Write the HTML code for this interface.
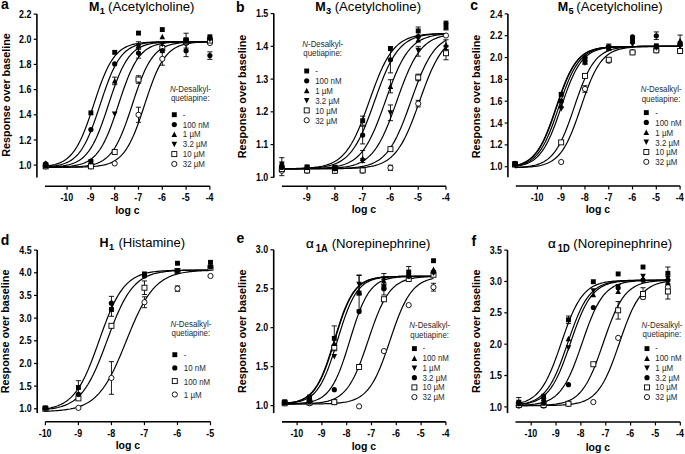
<!DOCTYPE html>
<html><head><meta charset="utf-8"><style>
html,body{margin:0;padding:0;background:#fff;}
svg{display:block;}
text{font-family:"Liberation Sans", sans-serif;}
</style></head><body>
<svg width="685" height="454" viewBox="0 0 685 454">
<rect width="685" height="454" fill="#fff"/>
<text x="4.95" y="9.2" font-size="14" font-weight="bold" text-anchor="middle">a</text>
<text x="89" y="10.9" font-size="12.5" font-weight="bold">M</text><text x="99.7" y="13.9" font-size="9.2" font-weight="bold">1</text><text x="108.1" y="10.9" font-size="12" textLength="86.4" lengthAdjust="spacingAndGlyphs">(Acetylcholine)</text>
<path d="M36.9 14.1V177.6" stroke="#000" stroke-width="1.6" fill="none"/>
<path d="M33.7 165.1H36.9" stroke="#000" stroke-width="1.2"/>
<text transform="translate(31.4 168.7) scale(0.87 1)" font-size="10.2" font-weight="bold" text-anchor="end">1.0</text>
<path d="M33.7 139.93H36.9" stroke="#000" stroke-width="1.2"/>
<text transform="translate(31.4 143.53) scale(0.87 1)" font-size="10.2" font-weight="bold" text-anchor="end">1.2</text>
<path d="M33.7 114.77H36.9" stroke="#000" stroke-width="1.2"/>
<text transform="translate(31.4 118.37) scale(0.87 1)" font-size="10.2" font-weight="bold" text-anchor="end">1.4</text>
<path d="M33.7 89.6H36.9" stroke="#000" stroke-width="1.2"/>
<text transform="translate(31.4 93.2) scale(0.87 1)" font-size="10.2" font-weight="bold" text-anchor="end">1.6</text>
<path d="M33.7 64.43H36.9" stroke="#000" stroke-width="1.2"/>
<text transform="translate(31.4 68.03) scale(0.87 1)" font-size="10.2" font-weight="bold" text-anchor="end">1.8</text>
<path d="M33.7 39.27H36.9" stroke="#000" stroke-width="1.2"/>
<text transform="translate(31.4 42.87) scale(0.87 1)" font-size="10.2" font-weight="bold" text-anchor="end">2.0</text>
<path d="M33.7 14.1H36.9" stroke="#000" stroke-width="1.2"/>
<text transform="translate(31.4 17.7) scale(0.87 1)" font-size="10.2" font-weight="bold" text-anchor="end">2.2</text>
<path d="M45 186.3H209.9" stroke="#000" stroke-width="1.6" fill="none"/>
<path d="M67.1 186.3V189.7" stroke="#000" stroke-width="1.2"/>
<text transform="translate(66.8 200.9) scale(0.87 1)" font-size="10.2" font-weight="bold" text-anchor="middle">-10</text>
<path d="M90.9 186.3V189.7" stroke="#000" stroke-width="1.2"/>
<text transform="translate(90.6 200.9) scale(0.87 1)" font-size="10.2" font-weight="bold" text-anchor="middle">-9</text>
<path d="M114.7 186.3V189.7" stroke="#000" stroke-width="1.2"/>
<text transform="translate(114.4 200.9) scale(0.87 1)" font-size="10.2" font-weight="bold" text-anchor="middle">-8</text>
<path d="M138.5 186.3V189.7" stroke="#000" stroke-width="1.2"/>
<text transform="translate(138.2 200.9) scale(0.87 1)" font-size="10.2" font-weight="bold" text-anchor="middle">-7</text>
<path d="M162.3 186.3V189.7" stroke="#000" stroke-width="1.2"/>
<text transform="translate(162 200.9) scale(0.87 1)" font-size="10.2" font-weight="bold" text-anchor="middle">-6</text>
<path d="M186.1 186.3V189.7" stroke="#000" stroke-width="1.2"/>
<text transform="translate(185.8 200.9) scale(0.87 1)" font-size="10.2" font-weight="bold" text-anchor="middle">-5</text>
<path d="M209.9 186.3V189.7" stroke="#000" stroke-width="1.2"/>
<text transform="translate(209.6 200.9) scale(0.87 1)" font-size="10.2" font-weight="bold" text-anchor="middle">-4</text>
<text x="127.45" y="213.6" font-size="10.5" font-weight="bold" text-anchor="middle">log c</text>
<text transform="translate(9.9 95) rotate(-90)" x="0" y="0" font-size="10.8" font-weight="bold" text-anchor="middle">Response over baseline</text>
<path d="M45.2 166.23 L46.58 166.07 L47.95 165.89 L49.32 165.68 L50.69 165.44 L52.07 165.18 L53.44 164.87 L54.81 164.53 L56.18 164.13 L57.56 163.69 L58.93 163.18 L60.3 162.61 L61.67 161.97 L63.05 161.24 L64.42 160.41 L65.79 159.49 L67.16 158.45 L68.54 157.29 L69.91 155.98 L71.28 154.53 L72.65 152.92 L74.03 151.13 L75.4 149.16 L76.77 147 L78.14 144.63 L79.52 142.05 L80.89 139.26 L82.26 136.26 L83.63 133.04 L85.01 129.63 L86.38 126.04 L87.75 122.27 L89.12 118.37 L90.5 114.34 L91.87 110.24 L93.24 106.08 L94.61 101.91 L95.99 97.76 L97.36 93.67 L98.73 89.67 L100.1 85.8 L101.48 82.07 L102.85 78.52 L104.22 75.16 L105.59 72 L106.97 69.05 L108.34 66.31 L109.71 63.79 L111.08 61.47 L112.45 59.35 L113.83 57.43 L115.2 55.68 L116.57 54.11 L117.94 52.7 L119.32 51.43 L120.69 50.3 L122.06 49.29 L123.43 48.39 L124.81 47.6 L126.18 46.89 L127.55 46.26 L128.92 45.71 L130.3 45.22 L131.67 44.79 L133.04 44.41 L134.41 44.07 L135.79 43.78 L137.16 43.52 L138.53 43.29 L139.9 43.09 L141.28 42.91 L142.65 42.76 L144.02 42.62 L145.39 42.5 L146.77 42.4 L148.14 42.31 L149.51 42.23 L150.88 42.16 L152.26 42.09 L153.63 42.04 L155 41.99 L156.37 41.95 L157.75 41.91 L159.12 41.88 L160.49 41.85 L161.86 41.83 L163.24 41.81 L164.61 41.79 L165.98 41.77 L167.35 41.76 L168.73 41.75 L170.1 41.74 L171.47 41.73 L172.84 41.72 L174.22 41.71 L175.59 41.7 L176.96 41.7 L178.33 41.69 L179.71 41.69 L181.08 41.68 L182.45 41.68 L183.82 41.68 L185.2 41.68 L186.57 41.67 L187.94 41.67 L189.31 41.67 L190.69 41.67 L192.06 41.67 L193.43 41.67 L194.8 41.66 L196.18 41.66 L197.55 41.66 L198.92 41.66 L200.29 41.66 L201.67 41.66 L203.04 41.66 L204.41 41.66 L205.78 41.66 L207.16 41.66 L208.53 41.66 L209.9 41.66" stroke="#000" stroke-width="1.2" fill="none"/>
<path d="M45.2 166.75 L46.58 166.67 L47.95 166.57 L49.32 166.45 L50.69 166.33 L52.07 166.18 L53.44 166.01 L54.81 165.82 L56.18 165.61 L57.56 165.36 L58.93 165.08 L60.3 164.77 L61.67 164.41 L63.05 164 L64.42 163.53 L65.79 163.01 L67.16 162.42 L68.54 161.74 L69.91 160.99 L71.28 160.13 L72.65 159.17 L74.03 158.09 L75.4 156.89 L76.77 155.54 L78.14 154.04 L79.52 152.37 L80.89 150.53 L82.26 148.5 L83.63 146.27 L85.01 143.83 L86.38 141.19 L87.75 138.33 L89.12 135.26 L90.5 131.98 L91.87 128.51 L93.24 124.86 L94.61 121.05 L95.99 117.1 L97.36 113.05 L98.73 108.92 L100.1 104.75 L101.48 100.58 L102.85 96.45 L104.22 92.39 L105.59 88.43 L106.97 84.6 L108.34 80.93 L109.71 77.43 L111.08 74.13 L112.45 71.04 L113.83 68.16 L115.2 65.49 L116.57 63.03 L117.94 60.77 L119.32 58.72 L120.69 56.85 L122.06 55.17 L123.43 53.65 L124.81 52.28 L126.18 51.06 L127.55 49.97 L128.92 49 L130.3 48.13 L131.67 47.36 L133.04 46.68 L134.41 46.08 L135.79 45.55 L137.16 45.08 L138.53 44.66 L139.9 44.29 L141.28 43.97 L142.65 43.69 L144.02 43.44 L145.39 43.22 L146.77 43.03 L148.14 42.86 L149.51 42.71 L150.88 42.58 L152.26 42.47 L153.63 42.37 L155 42.28 L156.37 42.2 L157.75 42.14 L159.12 42.08 L160.49 42.02 L161.86 41.98 L163.24 41.94 L164.61 41.9 L165.98 41.87 L167.35 41.85 L168.73 41.82 L170.1 41.8 L171.47 41.78 L172.84 41.77 L174.22 41.75 L175.59 41.74 L176.96 41.73 L178.33 41.72 L179.71 41.71 L181.08 41.71 L182.45 41.7 L183.82 41.7 L185.2 41.69 L186.57 41.69 L187.94 41.68 L189.31 41.68 L190.69 41.68 L192.06 41.67 L193.43 41.67 L194.8 41.67 L196.18 41.67 L197.55 41.67 L198.92 41.67 L200.29 41.67 L201.67 41.66 L203.04 41.66 L204.41 41.66 L205.78 41.66 L207.16 41.66 L208.53 41.66 L209.9 41.66" stroke="#000" stroke-width="1.2" fill="none"/>
<path d="M45.2 167.09 L46.58 167.05 L47.95 167.01 L49.32 166.96 L50.69 166.9 L52.07 166.83 L53.44 166.76 L54.81 166.67 L56.18 166.57 L57.56 166.46 L58.93 166.34 L60.3 166.19 L61.67 166.03 L63.05 165.84 L64.42 165.62 L65.79 165.38 L67.16 165.1 L68.54 164.79 L69.91 164.43 L71.28 164.03 L72.65 163.57 L74.03 163.05 L75.4 162.46 L76.77 161.79 L78.14 161.04 L79.52 160.19 L80.89 159.24 L82.26 158.17 L83.63 156.98 L85.01 155.64 L86.38 154.15 L87.75 152.49 L89.12 150.66 L90.5 148.64 L91.87 146.43 L93.24 144.01 L94.61 141.38 L95.99 138.53 L97.36 135.48 L98.73 132.22 L100.1 128.76 L101.48 125.12 L102.85 121.32 L104.22 117.38 L105.59 113.33 L106.97 109.21 L108.34 105.04 L109.71 100.87 L111.08 96.74 L112.45 92.67 L113.83 88.7 L115.2 84.86 L116.57 81.18 L117.94 77.67 L119.32 74.36 L120.69 71.25 L122.06 68.35 L123.43 65.66 L124.81 63.19 L126.18 60.92 L127.55 58.86 L128.92 56.98 L130.3 55.28 L131.67 53.75 L133.04 52.37 L134.41 51.14 L135.79 50.04 L137.16 49.06 L138.53 48.19 L139.9 47.41 L141.28 46.73 L142.65 46.12 L144.02 45.58 L145.39 45.11 L146.77 44.69 L148.14 44.32 L149.51 43.99 L150.88 43.71 L152.26 43.46 L153.63 43.24 L155 43.04 L156.37 42.87 L157.75 42.72 L159.12 42.59 L160.49 42.48 L161.86 42.37 L163.24 42.29 L164.61 42.21 L165.98 42.14 L167.35 42.08 L168.73 42.03 L170.1 41.98 L171.47 41.94 L172.84 41.91 L174.22 41.88 L175.59 41.85 L176.96 41.82 L178.33 41.8 L179.71 41.79 L181.08 41.77 L182.45 41.76 L183.82 41.74 L185.2 41.73 L186.57 41.72 L187.94 41.72 L189.31 41.71 L190.69 41.7 L192.06 41.7 L193.43 41.69 L194.8 41.69 L196.18 41.68 L197.55 41.68 L198.92 41.68 L200.29 41.67 L201.67 41.67 L203.04 41.67 L204.41 41.67 L205.78 41.67 L207.16 41.67 L208.53 41.67 L209.9 41.66" stroke="#000" stroke-width="1.2" fill="none"/>
<path d="M45.2 167.26 L46.58 167.25 L47.95 167.23 L49.32 167.21 L50.69 167.19 L52.07 167.16 L53.44 167.13 L54.81 167.1 L56.18 167.06 L57.56 167.02 L58.93 166.97 L60.3 166.92 L61.67 166.85 L63.05 166.78 L64.42 166.7 L65.79 166.6 L67.16 166.5 L68.54 166.37 L69.91 166.23 L71.28 166.08 L72.65 165.89 L74.03 165.69 L75.4 165.45 L76.77 165.19 L78.14 164.88 L79.52 164.54 L80.89 164.15 L82.26 163.7 L83.63 163.2 L85.01 162.63 L86.38 161.99 L87.75 161.26 L89.12 160.45 L90.5 159.52 L91.87 158.49 L93.24 157.33 L94.61 156.03 L95.99 154.59 L97.36 152.98 L98.73 151.2 L100.1 149.24 L101.48 147.08 L102.85 144.71 L104.22 142.14 L105.59 139.36 L106.97 136.36 L108.34 133.16 L109.71 129.76 L111.08 126.17 L112.45 122.41 L113.83 118.5 L115.2 114.48 L116.57 110.38 L117.94 106.22 L119.32 102.05 L120.69 97.9 L122.06 93.81 L123.43 89.81 L124.81 85.93 L126.18 82.2 L127.55 78.64 L128.92 75.27 L130.3 72.11 L131.67 69.15 L133.04 66.4 L134.41 63.87 L135.79 61.54 L137.16 59.42 L138.53 57.49 L139.9 55.74 L141.28 54.17 L142.65 52.75 L144.02 51.48 L145.39 50.34 L146.77 49.33 L148.14 48.42 L149.51 47.62 L150.88 46.91 L152.26 46.28 L153.63 45.73 L155 45.23 L156.37 44.8 L157.75 44.42 L159.12 44.08 L160.49 43.79 L161.86 43.52 L163.24 43.3 L164.61 43.09 L165.98 42.92 L167.35 42.76 L168.73 42.63 L170.1 42.51 L171.47 42.4 L172.84 42.31 L174.22 42.23 L175.59 42.16 L176.96 42.1 L178.33 42.04 L179.71 41.99 L181.08 41.95 L182.45 41.92 L183.82 41.88 L185.2 41.86 L186.57 41.83 L187.94 41.81 L189.31 41.79 L190.69 41.77 L192.06 41.76 L193.43 41.75 L194.8 41.74 L196.18 41.73 L197.55 41.72 L198.92 41.71 L200.29 41.7 L201.67 41.7 L203.04 41.69 L204.41 41.69 L205.78 41.68 L207.16 41.68 L208.53 41.68 L209.9 41.68" stroke="#000" stroke-width="1.2" fill="none"/>
<path d="M45.2 167.34 L46.58 167.33 L47.95 167.33 L49.32 167.32 L50.69 167.32 L52.07 167.31 L53.44 167.3 L54.81 167.3 L56.18 167.29 L57.56 167.27 L58.93 167.26 L60.3 167.25 L61.67 167.23 L63.05 167.21 L64.42 167.19 L65.79 167.16 L67.16 167.14 L68.54 167.1 L69.91 167.07 L71.28 167.02 L72.65 166.97 L74.03 166.92 L75.4 166.86 L76.77 166.78 L78.14 166.7 L79.52 166.61 L80.89 166.5 L82.26 166.38 L83.63 166.24 L85.01 166.08 L86.38 165.91 L87.75 165.7 L89.12 165.47 L90.5 165.2 L91.87 164.9 L93.24 164.56 L94.61 164.17 L95.99 163.73 L97.36 163.23 L98.73 162.67 L100.1 162.03 L101.48 161.31 L102.85 160.5 L104.22 159.58 L105.59 158.55 L106.97 157.4 L108.34 156.11 L109.71 154.67 L111.08 153.08 L112.45 151.31 L113.83 149.35 L115.2 147.21 L116.57 144.86 L117.94 142.3 L119.32 139.53 L120.69 136.54 L122.06 133.35 L123.43 129.96 L124.81 126.38 L126.18 122.63 L127.55 118.73 L128.92 114.72 L130.3 110.62 L131.67 106.46 L133.04 102.29 L134.41 98.14 L135.79 94.04 L137.16 90.04 L138.53 86.15 L139.9 82.41 L141.28 78.84 L142.65 75.46 L144.02 72.28 L145.39 69.31 L146.77 66.56 L148.14 64.01 L149.51 61.67 L150.88 59.54 L152.26 57.6 L153.63 55.84 L155 54.25 L156.37 52.83 L157.75 51.55 L159.12 50.4 L160.49 49.38 L161.86 48.47 L163.24 47.67 L164.61 46.95 L165.98 46.32 L167.35 45.76 L168.73 45.26 L170.1 44.82 L171.47 44.44 L172.84 44.1 L174.22 43.8 L175.59 43.54 L176.96 43.31 L178.33 43.11 L179.71 42.93 L181.08 42.77 L182.45 42.63 L183.82 42.51 L185.2 42.41 L186.57 42.31 L187.94 42.23 L189.31 42.16 L190.69 42.1 L192.06 42.04 L193.43 42 L194.8 41.95 L196.18 41.92 L197.55 41.89 L198.92 41.86 L200.29 41.83 L201.67 41.81 L203.04 41.79 L204.41 41.77 L205.78 41.76 L207.16 41.75 L208.53 41.74 L209.9 41.73" stroke="#000" stroke-width="1.2" fill="none"/>
<path d="M45.2 167.36 L46.58 167.36 L47.95 167.35 L49.32 167.35 L50.69 167.35 L52.07 167.35 L53.44 167.35 L54.81 167.34 L56.18 167.34 L57.56 167.34 L58.93 167.33 L60.3 167.33 L61.67 167.32 L63.05 167.32 L64.42 167.31 L65.79 167.3 L67.16 167.3 L68.54 167.29 L69.91 167.27 L71.28 167.26 L72.65 167.25 L74.03 167.23 L75.4 167.21 L76.77 167.19 L78.14 167.16 L79.52 167.14 L80.89 167.1 L82.26 167.07 L83.63 167.02 L85.01 166.98 L86.38 166.92 L87.75 166.86 L89.12 166.79 L90.5 166.7 L91.87 166.61 L93.24 166.5 L94.61 166.38 L95.99 166.25 L97.36 166.09 L98.73 165.91 L100.1 165.7 L101.48 165.47 L102.85 165.21 L104.22 164.91 L105.59 164.57 L106.97 164.18 L108.34 163.74 L109.71 163.24 L111.08 162.68 L112.45 162.04 L113.83 161.32 L115.2 160.51 L116.57 159.6 L117.94 158.57 L119.32 157.42 L120.69 156.13 L122.06 154.7 L123.43 153.11 L124.81 151.34 L126.18 149.39 L127.55 147.25 L128.92 144.9 L130.3 142.34 L131.67 139.58 L133.04 136.6 L134.41 133.41 L135.79 130.02 L137.16 126.44 L138.53 122.69 L139.9 118.8 L141.28 114.79 L142.65 110.69 L144.02 106.54 L145.39 102.37 L146.77 98.21 L148.14 94.12 L149.51 90.11 L150.88 86.22 L152.26 82.48 L153.63 78.9 L155 75.52 L156.37 72.34 L157.75 69.36 L159.12 66.6 L160.49 64.05 L161.86 61.71 L163.24 59.57 L164.61 57.63 L165.98 55.87 L167.35 54.28 L168.73 52.85 L170.1 51.57 L171.47 50.42 L172.84 49.4 L174.22 48.49 L175.59 47.68 L176.96 46.96 L178.33 46.33 L179.71 45.77 L181.08 45.27 L182.45 44.83 L183.82 44.45 L185.2 44.11 L186.57 43.81 L187.94 43.54 L189.31 43.31 L190.69 43.11 L192.06 42.93 L193.43 42.77 L194.8 42.64 L196.18 42.51 L197.55 42.41 L198.92 42.32 L200.29 42.23 L201.67 42.16 L203.04 42.1 L204.41 42.05 L205.78 42 L207.16 41.96 L208.53 41.92 L209.9 41.89" stroke="#000" stroke-width="1.2" fill="none"/>
<path d="M114.7 84.69V77.14M112.1 84.69H117.3M112.1 77.14H117.3" stroke="#000" stroke-width="0.9" fill="none"/>
<path d="M138.5 122.32V107.22M135.9 122.32H141.1M135.9 107.22H141.1" stroke="#000" stroke-width="0.9" fill="none"/>
<path d="M138.5 83.31V75.76M135.9 83.31H141.1M135.9 75.76H141.1" stroke="#000" stroke-width="0.9" fill="none"/>
<path d="M138.5 58.14V48.08M135.9 58.14H141.1M135.9 48.08H141.1" stroke="#000" stroke-width="0.9" fill="none"/>
<path d="M138.5 49.33V41.78M135.9 49.33H141.1M135.9 41.78H141.1" stroke="#000" stroke-width="0.9" fill="none"/>
<path d="M162.3 65.19V52.6M159.7 65.19H164.9M159.7 52.6H164.9" stroke="#000" stroke-width="0.9" fill="none"/>
<path d="M186.1 56.63V33.23M183.5 56.63H188.7M183.5 33.23H188.7" stroke="#000" stroke-width="0.9" fill="none"/>
<path d="M186.1 48.08V38.01M183.5 48.08H188.7M183.5 38.01H188.7" stroke="#000" stroke-width="0.9" fill="none"/>
<path d="M209.9 59.4V51.85M207.3 59.4H212.5M207.3 51.85H212.5" stroke="#000" stroke-width="0.9" fill="none"/>
<circle cx="45.68" cy="166.36" r="2.6" fill="#fff" stroke="#000" stroke-width="0.9"/>
<rect x="43.18" y="163.86" width="5" height="5" fill="#fff" stroke="#000" stroke-width="0.9"/>
<path d="M45.68 168L48.48 162.5L42.88 162.5Z" fill="#000"/>
<path d="M45.68 160.31L48.48 165.81L42.88 165.81Z" fill="#000"/>
<circle cx="45.68" cy="163.84" r="2.6" fill="#000"/>
<rect x="43.23" y="163.28" width="4.9" height="4.9" fill="#000"/>
<circle cx="90.9" cy="166.36" r="2.6" fill="#fff" stroke="#000" stroke-width="0.9"/>
<rect x="88.4" y="163.86" width="5" height="5" fill="#fff" stroke="#000" stroke-width="0.9"/>
<path d="M90.9 164.85L93.7 159.35L88.1 159.35Z" fill="#000"/>
<path d="M90.9 158.42L93.7 163.92L88.1 163.92Z" fill="#000"/>
<circle cx="90.9" cy="161.2" r="2.6" fill="#000"/>
<rect x="88.45" y="110.43" width="4.9" height="4.9" fill="#000"/>
<circle cx="90.9" cy="129.62" r="2.6" fill="#000"/>
<circle cx="114.7" cy="163.46" r="2.6" fill="#fff" stroke="#000" stroke-width="0.9"/>
<rect x="112.2" y="149.51" width="5" height="5" fill="#fff" stroke="#000" stroke-width="0.9"/>
<path d="M114.7 117.04L117.5 111.54L111.9 111.54Z" fill="#000"/>
<path d="M114.7 78.02L117.5 83.52L111.9 83.52Z" fill="#000"/>
<circle cx="114.7" cy="63.93" r="2.6" fill="#000"/>
<rect x="112.25" y="49.9" width="4.9" height="4.9" fill="#000"/>
<circle cx="138.5" cy="114.77" r="2.6" fill="#fff" stroke="#000" stroke-width="0.9"/>
<rect x="136" y="77.03" width="5" height="5" fill="#fff" stroke="#000" stroke-width="0.9"/>
<circle cx="138.5" cy="53.11" r="2.6" fill="#000"/>
<path d="M138.5 49.72L141.3 44.22L135.7 44.22Z" fill="#000"/>
<path d="M138.5 42.66L141.3 48.16L135.7 48.16Z" fill="#000"/>
<rect x="136.05" y="30.65" width="4.9" height="4.9" fill="#000"/>
<circle cx="162.3" cy="58.9" r="2.6" fill="#fff" stroke="#000" stroke-width="0.9"/>
<rect x="159.8" y="45.58" width="5" height="5" fill="#fff" stroke="#000" stroke-width="0.9"/>
<circle cx="162.3" cy="50.59" r="2.6" fill="#000"/>
<path d="M162.3 47.2L165.1 41.7L159.5 41.7Z" fill="#000"/>
<path d="M162.3 33.85L165.1 39.35L159.5 39.35Z" fill="#000"/>
<rect x="159.85" y="27.13" width="4.9" height="4.9" fill="#000"/>
<circle cx="186.1" cy="50.84" r="2.6" fill="#000"/>
<circle cx="186.1" cy="43.04" r="2.6" fill="#fff" stroke="#000" stroke-width="0.9"/>
<rect x="183.6" y="39.28" width="5" height="5" fill="#fff" stroke="#000" stroke-width="0.9"/>
<path d="M186.1 43.43L188.9 37.93L183.3 37.93Z" fill="#000"/>
<path d="M186.1 38.25L188.9 43.75L183.3 43.75Z" fill="#000"/>
<rect x="183.65" y="37.45" width="4.9" height="4.9" fill="#000"/>
<circle cx="209.9" cy="55.62" r="2.6" fill="#000"/>
<circle cx="209.9" cy="43.04" r="2.6" fill="#fff" stroke="#000" stroke-width="0.9"/>
<rect x="207.4" y="38.03" width="5" height="5" fill="#fff" stroke="#000" stroke-width="0.9"/>
<path d="M209.9 42.17L212.7 36.67L207.1 36.67Z" fill="#000"/>
<path d="M209.9 35.11L212.7 40.61L207.1 40.61Z" fill="#000"/>
<rect x="207.45" y="34.3" width="4.9" height="4.9" fill="#000"/>
<text transform="translate(169.9 91.9) scale(0.9 1)" font-size="8.8" fill="#2a2a2a"><tspan font-style="italic">N</tspan>-Desalkyl-</text>
<text transform="translate(170.9 101.3) scale(0.9 1)" font-size="8.8" fill="#2a2a2a">quetiapine:</text>
<rect x="171.85" y="112.25" width="4.9" height="4.9" fill="#000"/>
<text transform="translate(182.8 117.7) scale(0.9 1)" font-size="8.8" fill="#2a2a2a">-</text>
<circle cx="174.3" cy="124.55" r="2.6" fill="#000"/>
<text transform="translate(182.8 127.55) scale(0.9 1)" font-size="8.8" fill="#2a2a2a">100 nM</text>
<path d="M174.3 131.5L177.1 137L171.5 137Z" fill="#000"/>
<text transform="translate(182.8 137.4) scale(0.9 1)" font-size="8.8" fill="#2a2a2a">1 µM</text>
<path d="M174.3 147.15L177.1 141.65L171.5 141.65Z" fill="#000"/>
<text transform="translate(182.8 147.25) scale(0.9 1)" font-size="8.8" fill="#2a2a2a">3.2  µM</text>
<rect x="171.8" y="151.6" width="5" height="5" fill="#fff" stroke="#000" stroke-width="0.9"/>
<text transform="translate(182.8 157.1) scale(0.9 1)" font-size="8.8" fill="#2a2a2a">10 µM</text>
<circle cx="174.3" cy="163.95" r="2.6" fill="#fff" stroke="#000" stroke-width="0.9"/>
<text transform="translate(182.8 166.95) scale(0.9 1)" font-size="8.8" fill="#2a2a2a">32 µM</text>
<text x="240.25" y="11.5" font-size="14" font-weight="bold" text-anchor="middle">b</text>
<text x="315.2" y="10.9" font-size="12.5" font-weight="bold">M</text><text x="325.9" y="13.9" font-size="9.2" font-weight="bold">3</text><text x="334.7" y="10.9" font-size="12" textLength="86.4" lengthAdjust="spacingAndGlyphs">(Acetylcholine)</text>
<path d="M273.8 13.6V177.7" stroke="#000" stroke-width="1.6" fill="none"/>
<path d="M270.6 177.3H273.8" stroke="#000" stroke-width="1.2"/>
<text transform="translate(268.3 180.9) scale(0.87 1)" font-size="10.2" font-weight="bold" text-anchor="end">1.0</text>
<path d="M270.6 144.56H273.8" stroke="#000" stroke-width="1.2"/>
<text transform="translate(268.3 148.16) scale(0.87 1)" font-size="10.2" font-weight="bold" text-anchor="end">1.1</text>
<path d="M270.6 111.82H273.8" stroke="#000" stroke-width="1.2"/>
<text transform="translate(268.3 115.42) scale(0.87 1)" font-size="10.2" font-weight="bold" text-anchor="end">1.2</text>
<path d="M270.6 79.08H273.8" stroke="#000" stroke-width="1.2"/>
<text transform="translate(268.3 82.68) scale(0.87 1)" font-size="10.2" font-weight="bold" text-anchor="end">1.3</text>
<path d="M270.6 46.34H273.8" stroke="#000" stroke-width="1.2"/>
<text transform="translate(268.3 49.94) scale(0.87 1)" font-size="10.2" font-weight="bold" text-anchor="end">1.4</text>
<path d="M270.6 13.6H273.8" stroke="#000" stroke-width="1.2"/>
<text transform="translate(268.3 17.2) scale(0.87 1)" font-size="10.2" font-weight="bold" text-anchor="end">1.5</text>
<path d="M281.9 186.3H446" stroke="#000" stroke-width="1.6" fill="none"/>
<path d="M307.1 186.3V189.7" stroke="#000" stroke-width="1.2"/>
<text transform="translate(306.8 200.9) scale(0.87 1)" font-size="10.2" font-weight="bold" text-anchor="middle">-9</text>
<path d="M334.88 186.3V189.7" stroke="#000" stroke-width="1.2"/>
<text transform="translate(334.58 200.9) scale(0.87 1)" font-size="10.2" font-weight="bold" text-anchor="middle">-8</text>
<path d="M362.66 186.3V189.7" stroke="#000" stroke-width="1.2"/>
<text transform="translate(362.36 200.9) scale(0.87 1)" font-size="10.2" font-weight="bold" text-anchor="middle">-7</text>
<path d="M390.44 186.3V189.7" stroke="#000" stroke-width="1.2"/>
<text transform="translate(390.14 200.9) scale(0.87 1)" font-size="10.2" font-weight="bold" text-anchor="middle">-6</text>
<path d="M418.22 186.3V189.7" stroke="#000" stroke-width="1.2"/>
<text transform="translate(417.92 200.9) scale(0.87 1)" font-size="10.2" font-weight="bold" text-anchor="middle">-5</text>
<path d="M446 186.3V189.7" stroke="#000" stroke-width="1.2"/>
<text transform="translate(445.7 200.9) scale(0.87 1)" font-size="10.2" font-weight="bold" text-anchor="middle">-4</text>
<text x="363.95" y="212.8" font-size="10.5" font-weight="bold" text-anchor="middle">log c</text>
<text transform="translate(246.4 96.5) rotate(-90)" x="0" y="0" font-size="10.8" font-weight="bold" text-anchor="middle">Response over baseline</text>
<path d="M281.82 168.69 L283.19 168.68 L284.56 168.67 L285.92 168.65 L287.29 168.64 L288.66 168.62 L290.03 168.6 L291.4 168.58 L292.77 168.55 L294.13 168.52 L295.5 168.49 L296.87 168.45 L298.24 168.41 L299.61 168.37 L300.97 168.32 L302.34 168.26 L303.71 168.2 L305.08 168.13 L306.45 168.05 L307.82 167.97 L309.18 167.87 L310.55 167.76 L311.92 167.63 L313.29 167.5 L314.66 167.34 L316.02 167.17 L317.39 166.98 L318.76 166.77 L320.13 166.53 L321.5 166.26 L322.87 165.97 L324.23 165.64 L325.6 165.27 L326.97 164.86 L328.34 164.4 L329.71 163.89 L331.07 163.33 L332.44 162.7 L333.81 162.01 L335.18 161.24 L336.55 160.39 L337.91 159.45 L339.28 158.41 L340.65 157.27 L342.02 156.02 L343.39 154.65 L344.76 153.14 L346.12 151.51 L347.49 149.72 L348.86 147.79 L350.23 145.7 L351.6 143.44 L352.96 141.02 L354.33 138.43 L355.7 135.68 L357.07 132.76 L358.44 129.68 L359.81 126.45 L361.17 123.08 L362.54 119.59 L363.91 115.98 L365.28 112.28 L366.65 108.51 L368.01 104.7 L369.38 100.86 L370.75 97.02 L372.12 93.21 L373.49 89.45 L374.86 85.75 L376.22 82.16 L377.59 78.67 L378.96 75.31 L380.33 72.09 L381.7 69.03 L383.06 66.12 L384.43 63.38 L385.8 60.81 L387.17 58.4 L388.54 56.16 L389.91 54.08 L391.27 52.16 L392.64 50.39 L394.01 48.76 L395.38 47.27 L396.75 45.91 L398.11 44.66 L399.48 43.53 L400.85 42.5 L402.22 41.57 L403.59 40.73 L404.96 39.97 L406.32 39.28 L407.69 38.66 L409.06 38.1 L410.43 37.59 L411.8 37.14 L413.16 36.73 L414.53 36.37 L415.9 36.04 L417.27 35.75 L418.64 35.48 L420 35.25 L421.37 35.03 L422.74 34.84 L424.11 34.67 L425.48 34.52 L426.85 34.39 L428.21 34.27 L429.58 34.16 L430.95 34.06 L432.32 33.97 L433.69 33.89 L435.05 33.83 L436.42 33.76 L437.79 33.71 L439.16 33.66 L440.53 33.61 L441.9 33.57 L443.26 33.54 L444.63 33.51 L446 33.48" stroke="#000" stroke-width="1.2" fill="none"/>
<path d="M281.82 168.73 L283.19 168.72 L284.56 168.71 L285.92 168.7 L287.29 168.69 L288.66 168.68 L290.03 168.67 L291.4 168.65 L292.77 168.63 L294.13 168.62 L295.5 168.6 L296.87 168.57 L298.24 168.55 L299.61 168.52 L300.97 168.49 L302.34 168.45 L303.71 168.41 L305.08 168.36 L306.45 168.31 L307.82 168.26 L309.18 168.19 L310.55 168.12 L311.92 168.04 L313.29 167.95 L314.66 167.85 L316.02 167.74 L317.39 167.62 L318.76 167.48 L320.13 167.32 L321.5 167.15 L322.87 166.95 L324.23 166.74 L325.6 166.49 L326.97 166.22 L328.34 165.92 L329.71 165.59 L331.07 165.21 L332.44 164.79 L333.81 164.33 L335.18 163.81 L336.55 163.24 L337.91 162.61 L339.28 161.9 L340.65 161.12 L342.02 160.26 L343.39 159.31 L344.76 158.26 L346.12 157.1 L347.49 155.83 L348.86 154.44 L350.23 152.92 L351.6 151.26 L352.96 149.46 L354.33 147.5 L355.7 145.38 L357.07 143.11 L358.44 140.66 L359.81 138.05 L361.17 135.27 L362.54 132.33 L363.91 129.23 L365.28 125.98 L366.65 122.59 L368.01 119.08 L369.38 115.46 L370.75 111.75 L372.12 107.97 L373.49 104.15 L374.86 100.31 L376.22 96.48 L377.59 92.67 L378.96 88.92 L380.33 85.24 L381.7 81.65 L383.06 78.18 L384.43 74.85 L385.8 71.65 L387.17 68.61 L388.54 65.72 L389.91 63.01 L391.27 60.46 L392.64 58.07 L394.01 55.85 L395.38 53.8 L396.75 51.9 L398.11 50.15 L399.48 48.54 L400.85 47.07 L402.22 45.72 L403.59 44.5 L404.96 43.38 L406.32 42.37 L407.69 41.45 L409.06 40.62 L410.43 39.86 L411.8 39.19 L413.16 38.57 L414.53 38.02 L415.9 37.53 L417.27 37.08 L418.64 36.68 L420 36.32 L421.37 36 L422.74 35.71 L424.11 35.45 L425.48 35.21 L426.85 35.01 L428.21 34.82 L429.58 34.65 L430.95 34.5 L432.32 34.37 L433.69 34.25 L435.05 34.14 L436.42 34.05 L437.79 33.96 L439.16 33.88 L440.53 33.82 L441.9 33.75 L443.26 33.7 L444.63 33.65 L446 33.61" stroke="#000" stroke-width="1.2" fill="none"/>
<path d="M281.82 168.76 L283.19 168.76 L284.56 168.76 L285.92 168.75 L287.29 168.75 L288.66 168.74 L290.03 168.74 L291.4 168.73 L292.77 168.73 L294.13 168.72 L295.5 168.71 L296.87 168.7 L298.24 168.69 L299.61 168.68 L300.97 168.66 L302.34 168.65 L303.71 168.63 L305.08 168.61 L306.45 168.59 L307.82 168.57 L309.18 168.54 L310.55 168.52 L311.92 168.48 L313.29 168.45 L314.66 168.4 L316.02 168.36 L317.39 168.31 L318.76 168.25 L320.13 168.19 L321.5 168.11 L322.87 168.03 L324.23 167.94 L325.6 167.84 L326.97 167.73 L328.34 167.61 L329.71 167.46 L331.07 167.31 L332.44 167.13 L333.81 166.94 L335.18 166.72 L336.55 166.47 L337.91 166.2 L339.28 165.9 L340.65 165.56 L342.02 165.18 L343.39 164.76 L344.76 164.29 L346.12 163.77 L347.49 163.19 L348.86 162.55 L350.23 161.84 L351.6 161.06 L352.96 160.19 L354.33 159.23 L355.7 158.17 L357.07 157 L358.44 155.72 L359.81 154.32 L361.17 152.79 L362.54 151.12 L363.91 149.3 L365.28 147.33 L366.65 145.21 L368.01 142.91 L369.38 140.46 L370.75 137.83 L372.12 135.04 L373.49 132.09 L374.86 128.97 L376.22 125.71 L377.59 122.31 L378.96 118.79 L380.33 115.16 L381.7 111.45 L383.06 107.67 L384.43 103.84 L385.8 100 L387.17 96.17 L388.54 92.36 L389.91 88.61 L391.27 84.94 L392.64 81.37 L394.01 77.91 L395.38 74.58 L396.75 71.4 L398.11 68.37 L399.48 65.5 L400.85 62.79 L402.22 60.26 L403.59 57.89 L404.96 55.68 L406.32 53.64 L407.69 51.75 L409.06 50.01 L410.43 48.42 L411.8 46.95 L413.16 45.62 L414.53 44.4 L415.9 43.29 L417.27 42.29 L418.64 41.38 L420 40.55 L421.37 39.81 L422.74 39.13 L424.11 38.53 L425.48 37.98 L426.85 37.49 L428.21 37.05 L429.58 36.65 L430.95 36.29 L432.32 35.97 L433.69 35.68 L435.05 35.43 L436.42 35.2 L437.79 34.99 L439.16 34.8 L440.53 34.64 L441.9 34.49 L443.26 34.36 L444.63 34.24 L446 34.13" stroke="#000" stroke-width="1.2" fill="none"/>
<path d="M281.82 168.78 L283.19 168.78 L284.56 168.78 L285.92 168.77 L287.29 168.77 L288.66 168.77 L290.03 168.77 L291.4 168.77 L292.77 168.76 L294.13 168.76 L295.5 168.76 L296.87 168.75 L298.24 168.75 L299.61 168.74 L300.97 168.74 L302.34 168.73 L303.71 168.73 L305.08 168.72 L306.45 168.71 L307.82 168.7 L309.18 168.69 L310.55 168.68 L311.92 168.67 L313.29 168.65 L314.66 168.64 L316.02 168.62 L317.39 168.6 L318.76 168.58 L320.13 168.55 L321.5 168.52 L322.87 168.49 L324.23 168.46 L325.6 168.42 L326.97 168.37 L328.34 168.33 L329.71 168.27 L331.07 168.21 L332.44 168.14 L333.81 168.06 L335.18 167.97 L336.55 167.88 L337.91 167.77 L339.28 167.65 L340.65 167.51 L342.02 167.36 L343.39 167.19 L344.76 167 L346.12 166.79 L347.49 166.55 L348.86 166.29 L350.23 166 L351.6 165.67 L352.96 165.31 L354.33 164.9 L355.7 164.45 L357.07 163.95 L358.44 163.39 L359.81 162.77 L361.17 162.08 L362.54 161.32 L363.91 160.48 L365.28 159.55 L366.65 158.52 L368.01 157.39 L369.38 156.15 L370.75 154.79 L372.12 153.3 L373.49 151.68 L374.86 149.91 L376.22 147.99 L377.59 145.92 L378.96 143.68 L380.33 141.27 L381.7 138.7 L383.06 135.97 L384.43 133.06 L385.8 130 L387.17 126.79 L388.54 123.43 L389.91 119.95 L391.27 116.35 L392.64 112.66 L394.01 108.9 L395.38 105.09 L396.75 101.25 L398.11 97.41 L399.48 93.59 L400.85 89.83 L402.22 86.13 L403.59 82.52 L404.96 79.02 L406.32 75.65 L407.69 72.41 L409.06 69.33 L410.43 66.41 L411.8 63.65 L413.16 61.06 L414.53 58.64 L415.9 56.38 L417.27 54.28 L418.64 52.35 L420 50.56 L421.37 48.92 L422.74 47.41 L424.11 46.04 L425.48 44.78 L426.85 43.64 L428.21 42.6 L429.58 41.66 L430.95 40.81 L432.32 40.04 L433.69 39.34 L435.05 38.72 L436.42 38.15 L437.79 37.64 L439.16 37.18 L440.53 36.77 L441.9 36.4 L443.26 36.07 L444.63 35.77 L446 35.51" stroke="#000" stroke-width="1.2" fill="none"/>
<path d="M281.82 168.78 L283.19 168.78 L284.56 168.78 L285.92 168.78 L287.29 168.78 L288.66 168.78 L290.03 168.78 L291.4 168.78 L292.77 168.78 L294.13 168.78 L295.5 168.78 L296.87 168.78 L298.24 168.78 L299.61 168.77 L300.97 168.77 L302.34 168.77 L303.71 168.77 L305.08 168.77 L306.45 168.76 L307.82 168.76 L309.18 168.76 L310.55 168.75 L311.92 168.75 L313.29 168.75 L314.66 168.74 L316.02 168.74 L317.39 168.73 L318.76 168.72 L320.13 168.72 L321.5 168.71 L322.87 168.7 L324.23 168.69 L325.6 168.67 L326.97 168.66 L328.34 168.64 L329.71 168.63 L331.07 168.61 L332.44 168.59 L333.81 168.56 L335.18 168.54 L336.55 168.5 L337.91 168.47 L339.28 168.43 L340.65 168.39 L342.02 168.34 L343.39 168.29 L344.76 168.23 L346.12 168.16 L347.49 168.09 L348.86 168.01 L350.23 167.91 L351.6 167.81 L352.96 167.69 L354.33 167.56 L355.7 167.42 L357.07 167.25 L358.44 167.07 L359.81 166.87 L361.17 166.64 L362.54 166.39 L363.91 166.11 L365.28 165.79 L366.65 165.44 L368.01 165.05 L369.38 164.61 L370.75 164.13 L372.12 163.59 L373.49 163 L374.86 162.33 L376.22 161.6 L377.59 160.79 L378.96 159.89 L380.33 158.9 L381.7 157.81 L383.06 156.61 L384.43 155.29 L385.8 153.85 L387.17 152.27 L388.54 150.56 L389.91 148.69 L391.27 146.67 L392.64 144.49 L394.01 142.15 L395.38 139.64 L396.75 136.96 L398.11 134.11 L399.48 131.11 L400.85 127.95 L402.22 124.64 L403.59 121.2 L404.96 117.64 L406.32 113.98 L407.69 110.24 L409.06 106.45 L410.43 102.62 L411.8 98.77 L413.16 94.95 L414.53 91.16 L415.9 87.43 L417.27 83.79 L418.64 80.25 L420 76.83 L421.37 73.55 L422.74 70.41 L424.11 67.43 L425.48 64.61 L426.85 61.96 L428.21 59.48 L429.58 57.16 L430.95 55.01 L432.32 53.02 L433.69 51.18 L435.05 49.49 L436.42 47.93 L437.79 46.51 L439.16 45.22 L440.53 44.03 L441.9 42.96 L443.26 41.99 L444.63 41.1 L446 40.3" stroke="#000" stroke-width="1.2" fill="none"/>
<path d="M281.82 168.79 L283.19 168.79 L284.56 168.79 L285.92 168.79 L287.29 168.79 L288.66 168.78 L290.03 168.78 L291.4 168.78 L292.77 168.78 L294.13 168.78 L295.5 168.78 L296.87 168.78 L298.24 168.78 L299.61 168.78 L300.97 168.78 L302.34 168.78 L303.71 168.78 L305.08 168.78 L306.45 168.78 L307.82 168.77 L309.18 168.77 L310.55 168.77 L311.92 168.77 L313.29 168.77 L314.66 168.77 L316.02 168.76 L317.39 168.76 L318.76 168.76 L320.13 168.75 L321.5 168.75 L322.87 168.74 L324.23 168.74 L325.6 168.73 L326.97 168.72 L328.34 168.72 L329.71 168.71 L331.07 168.7 L332.44 168.69 L333.81 168.68 L335.18 168.66 L336.55 168.65 L337.91 168.63 L339.28 168.61 L340.65 168.59 L342.02 168.57 L343.39 168.54 L344.76 168.51 L346.12 168.48 L347.49 168.44 L348.86 168.4 L350.23 168.36 L351.6 168.31 L352.96 168.25 L354.33 168.18 L355.7 168.11 L357.07 168.03 L358.44 167.94 L359.81 167.84 L361.17 167.73 L362.54 167.6 L363.91 167.46 L365.28 167.3 L366.65 167.13 L368.01 166.93 L369.38 166.71 L370.75 166.47 L372.12 166.19 L373.49 165.89 L374.86 165.55 L376.22 165.17 L377.59 164.75 L378.96 164.28 L380.33 163.76 L381.7 163.18 L383.06 162.53 L384.43 161.82 L385.8 161.03 L387.17 160.16 L388.54 159.2 L389.91 158.14 L391.27 156.97 L392.64 155.69 L394.01 154.29 L395.38 152.75 L396.75 151.08 L398.11 149.26 L399.48 147.28 L400.85 145.15 L402.22 142.85 L403.59 140.39 L404.96 137.76 L406.32 134.97 L407.69 132.01 L409.06 128.89 L410.43 125.63 L411.8 122.22 L413.16 118.7 L414.53 115.07 L415.9 111.35 L417.27 107.57 L418.64 103.75 L420 99.9 L421.37 96.07 L422.74 92.27 L424.11 88.52 L425.48 84.85 L426.85 81.28 L428.21 77.82 L429.58 74.5 L430.95 71.32 L432.32 68.29 L433.69 65.43 L435.05 62.73 L436.42 60.19 L437.79 57.83 L439.16 55.63 L440.53 53.59 L441.9 51.7 L443.26 49.97 L444.63 48.38 L446 46.92" stroke="#000" stroke-width="1.2" fill="none"/>
<path d="M281.82 175.66V165.84M279.22 175.66H284.42M279.22 165.84H284.42" stroke="#000" stroke-width="0.9" fill="none"/>
<path d="M281.82 170.75V157.66M279.22 170.75H284.42M279.22 157.66H284.42" stroke="#000" stroke-width="0.9" fill="none"/>
<path d="M334.88 171.73V165.19M332.28 171.73H337.48M332.28 165.19H337.48" stroke="#000" stroke-width="0.9" fill="none"/>
<path d="M362.66 162.57V150.45M360.06 162.57H365.26M360.06 150.45H365.26" stroke="#000" stroke-width="0.9" fill="none"/>
<path d="M362.66 143.91V126.23M360.06 143.91H365.26M360.06 126.23H365.26" stroke="#000" stroke-width="0.9" fill="none"/>
<path d="M362.66 125.24V116.08M360.06 125.24H365.26M360.06 116.08H365.26" stroke="#000" stroke-width="0.9" fill="none"/>
<path d="M390.44 170.42V165.19M387.84 170.42H393.04M387.84 165.19H393.04" stroke="#000" stroke-width="0.9" fill="none"/>
<path d="M390.44 120.66V104.94M387.84 120.66H393.04M387.84 104.94H393.04" stroke="#000" stroke-width="0.9" fill="none"/>
<path d="M390.44 92.83V79.73M387.84 92.83H393.04M387.84 79.73H393.04" stroke="#000" stroke-width="0.9" fill="none"/>
<path d="M390.44 72.86V46.67M387.84 72.86H393.04M387.84 46.67H393.04" stroke="#000" stroke-width="0.9" fill="none"/>
<path d="M418.22 106.91V100.36M415.62 106.91H420.82M415.62 100.36H420.82" stroke="#000" stroke-width="0.9" fill="none"/>
<path d="M418.22 80.72V74.17M415.62 80.72H420.82M415.62 74.17H420.82" stroke="#000" stroke-width="0.9" fill="none"/>
<path d="M418.22 56.16V46.34M415.62 56.16H420.82M415.62 46.34H420.82" stroke="#000" stroke-width="0.9" fill="none"/>
<path d="M418.22 36.52V27.02M415.62 36.52H420.82M415.62 27.02H420.82" stroke="#000" stroke-width="0.9" fill="none"/>
<path d="M446 59.76V49.61M443.4 59.76H448.6M443.4 49.61H448.6" stroke="#000" stroke-width="0.9" fill="none"/>
<path d="M446 49.61V39.79M443.4 49.61H448.6M443.4 39.79H448.6" stroke="#000" stroke-width="0.9" fill="none"/>
<path d="M446 29.97V21.13M443.4 29.97H448.6M443.4 21.13H448.6" stroke="#000" stroke-width="0.9" fill="none"/>
<circle cx="281.82" cy="170.75" r="2.6" fill="#fff" stroke="#000" stroke-width="0.9"/>
<rect x="279.32" y="166.62" width="5" height="5" fill="#fff" stroke="#000" stroke-width="0.9"/>
<path d="M281.82 167.1L284.62 161.6L279.02 161.6Z" fill="#000"/>
<path d="M281.82 161.3L284.62 166.8L279.02 166.8Z" fill="#000"/>
<circle cx="281.82" cy="167.48" r="2.6" fill="#000"/>
<rect x="279.37" y="163.39" width="4.9" height="4.9" fill="#000"/>
<circle cx="307.1" cy="170.75" r="2.6" fill="#fff" stroke="#000" stroke-width="0.9"/>
<rect x="304.6" y="167.92" width="5" height="5" fill="#fff" stroke="#000" stroke-width="0.9"/>
<path d="M307.1 170.38L309.9 164.88L304.3 164.88Z" fill="#000"/>
<path d="M307.1 164.58L309.9 170.08L304.3 170.08Z" fill="#000"/>
<circle cx="307.1" cy="167.48" r="2.6" fill="#000"/>
<rect x="304.65" y="164.37" width="4.9" height="4.9" fill="#000"/>
<circle cx="334.88" cy="170.75" r="2.6" fill="#fff" stroke="#000" stroke-width="0.9"/>
<rect x="332.38" y="168.25" width="5" height="5" fill="#fff" stroke="#000" stroke-width="0.9"/>
<path d="M334.88 172.02L337.68 166.52L332.08 166.52Z" fill="#000"/>
<path d="M334.88 165.56L337.68 171.06L332.08 171.06Z" fill="#000"/>
<circle cx="334.88" cy="168.46" r="2.6" fill="#000"/>
<rect x="332.43" y="165.03" width="4.9" height="4.9" fill="#000"/>
<circle cx="362.66" cy="170.75" r="2.6" fill="#fff" stroke="#000" stroke-width="0.9"/>
<rect x="360.16" y="167.92" width="5" height="5" fill="#fff" stroke="#000" stroke-width="0.9"/>
<path d="M362.66 163.83L365.46 158.33L359.86 158.33Z" fill="#000"/>
<path d="M362.66 155.41L365.46 160.91L359.86 160.91Z" fill="#000"/>
<circle cx="362.66" cy="135.07" r="2.6" fill="#000"/>
<rect x="360.21" y="118.21" width="4.9" height="4.9" fill="#000"/>
<circle cx="390.44" cy="167.81" r="2.6" fill="#fff" stroke="#000" stroke-width="0.9"/>
<rect x="387.94" y="146.64" width="5" height="5" fill="#fff" stroke="#000" stroke-width="0.9"/>
<path d="M390.44 115.7L393.24 110.2L387.64 110.2Z" fill="#000"/>
<path d="M390.44 83.38L393.24 88.88L387.64 88.88Z" fill="#000"/>
<circle cx="390.44" cy="59.76" r="2.6" fill="#000"/>
<rect x="387.99" y="46.18" width="4.9" height="4.9" fill="#000"/>
<circle cx="418.22" cy="103.63" r="2.6" fill="#fff" stroke="#000" stroke-width="0.9"/>
<rect x="415.72" y="74.94" width="5" height="5" fill="#fff" stroke="#000" stroke-width="0.9"/>
<path d="M418.22 53.17L421.02 47.67L415.42 47.67Z" fill="#000"/>
<path d="M418.22 36.89L421.02 42.39L415.42 42.39Z" fill="#000"/>
<circle cx="418.22" cy="36.52" r="2.6" fill="#000"/>
<rect x="415.77" y="28.5" width="4.9" height="4.9" fill="#000"/>
<rect x="443.5" y="50.72" width="5" height="5" fill="#fff" stroke="#000" stroke-width="0.9"/>
<path d="M446 50.55L448.8 45.05L443.2 45.05Z" fill="#000"/>
<path d="M446 41.8L448.8 47.3L443.2 47.3Z" fill="#000"/>
<circle cx="446" cy="35.54" r="2.6" fill="#fff" stroke="#000" stroke-width="0.9"/>
<circle cx="446" cy="23.42" r="2.6" fill="#000"/>
<rect x="443.55" y="24.9" width="4.9" height="4.9" fill="#000"/>
<text transform="translate(302.3 46.9) scale(0.9 1)" font-size="8.8" fill="#2a2a2a"><tspan font-style="italic">N</tspan>-Desalkyl-</text>
<text transform="translate(303.3 56.3) scale(0.9 1)" font-size="8.8" fill="#2a2a2a">quetiapine:</text>
<rect x="304.25" y="68.55" width="4.9" height="4.9" fill="#000"/>
<text transform="translate(315.2 74.4) scale(0.9 1)" font-size="8.8" fill="#2a2a2a">-</text>
<circle cx="306.7" cy="80.85" r="2.6" fill="#000"/>
<text transform="translate(315.2 84.25) scale(0.9 1)" font-size="8.8" fill="#2a2a2a">100 nM</text>
<path d="M306.7 87.8L309.5 93.3L303.9 93.3Z" fill="#000"/>
<text transform="translate(315.2 94.1) scale(0.9 1)" font-size="8.8" fill="#2a2a2a">1 µM</text>
<path d="M306.7 103.45L309.5 97.95L303.9 97.95Z" fill="#000"/>
<text transform="translate(315.2 103.95) scale(0.9 1)" font-size="8.8" fill="#2a2a2a">3.2  µM</text>
<rect x="304.2" y="107.9" width="5" height="5" fill="#fff" stroke="#000" stroke-width="0.9"/>
<text transform="translate(315.2 113.8) scale(0.9 1)" font-size="8.8" fill="#2a2a2a">10 µM</text>
<circle cx="306.7" cy="120.25" r="2.6" fill="#fff" stroke="#000" stroke-width="0.9"/>
<text transform="translate(315.2 123.65) scale(0.9 1)" font-size="8.8" fill="#2a2a2a">32 µM</text>
<text x="474.1" y="9.6" font-size="14" font-weight="bold" text-anchor="middle">c</text>
<text x="557.7" y="10.9" font-size="12.5" font-weight="bold">M</text><text x="568.4" y="13.9" font-size="9.2" font-weight="bold">5</text><text x="576.3" y="10.9" font-size="12" textLength="86.4" lengthAdjust="spacingAndGlyphs">(Acetylcholine)</text>
<path d="M507.9 13.9V177.2" stroke="#000" stroke-width="1.6" fill="none"/>
<path d="M504.7 166.7H507.9" stroke="#000" stroke-width="1.2"/>
<text transform="translate(502.4 170.3) scale(0.87 1)" font-size="10.2" font-weight="bold" text-anchor="end">1.0</text>
<path d="M504.7 144.87H507.9" stroke="#000" stroke-width="1.2"/>
<text transform="translate(502.4 148.47) scale(0.87 1)" font-size="10.2" font-weight="bold" text-anchor="end">1.2</text>
<path d="M504.7 123.04H507.9" stroke="#000" stroke-width="1.2"/>
<text transform="translate(502.4 126.64) scale(0.87 1)" font-size="10.2" font-weight="bold" text-anchor="end">1.4</text>
<path d="M504.7 101.21H507.9" stroke="#000" stroke-width="1.2"/>
<text transform="translate(502.4 104.81) scale(0.87 1)" font-size="10.2" font-weight="bold" text-anchor="end">1.6</text>
<path d="M504.7 79.39H507.9" stroke="#000" stroke-width="1.2"/>
<text transform="translate(502.4 82.99) scale(0.87 1)" font-size="10.2" font-weight="bold" text-anchor="end">1.8</text>
<path d="M504.7 57.56H507.9" stroke="#000" stroke-width="1.2"/>
<text transform="translate(502.4 61.16) scale(0.87 1)" font-size="10.2" font-weight="bold" text-anchor="end">2.0</text>
<path d="M504.7 35.73H507.9" stroke="#000" stroke-width="1.2"/>
<text transform="translate(502.4 39.33) scale(0.87 1)" font-size="10.2" font-weight="bold" text-anchor="end">2.2</text>
<path d="M504.7 13.9H507.9" stroke="#000" stroke-width="1.2"/>
<text transform="translate(502.4 17.5) scale(0.87 1)" font-size="10.2" font-weight="bold" text-anchor="end">2.4</text>
<path d="M515.8 186H680.1" stroke="#000" stroke-width="1.6" fill="none"/>
<path d="M537.4 186V189.4" stroke="#000" stroke-width="1.2"/>
<text transform="translate(537.1 200.6) scale(0.87 1)" font-size="10.2" font-weight="bold" text-anchor="middle">-10</text>
<path d="M561.18 186V189.4" stroke="#000" stroke-width="1.2"/>
<text transform="translate(560.88 200.6) scale(0.87 1)" font-size="10.2" font-weight="bold" text-anchor="middle">-9</text>
<path d="M584.97 186V189.4" stroke="#000" stroke-width="1.2"/>
<text transform="translate(584.67 200.6) scale(0.87 1)" font-size="10.2" font-weight="bold" text-anchor="middle">-8</text>
<path d="M608.75 186V189.4" stroke="#000" stroke-width="1.2"/>
<text transform="translate(608.45 200.6) scale(0.87 1)" font-size="10.2" font-weight="bold" text-anchor="middle">-7</text>
<path d="M632.53 186V189.4" stroke="#000" stroke-width="1.2"/>
<text transform="translate(632.23 200.6) scale(0.87 1)" font-size="10.2" font-weight="bold" text-anchor="middle">-6</text>
<path d="M656.32 186V189.4" stroke="#000" stroke-width="1.2"/>
<text transform="translate(656.02 200.6) scale(0.87 1)" font-size="10.2" font-weight="bold" text-anchor="middle">-5</text>
<path d="M680.1 186V189.4" stroke="#000" stroke-width="1.2"/>
<text transform="translate(679.8 200.6) scale(0.87 1)" font-size="10.2" font-weight="bold" text-anchor="middle">-4</text>
<text x="597.95" y="213.3" font-size="10.5" font-weight="bold" text-anchor="middle">log c</text>
<text transform="translate(480.4 96.5) rotate(-90)" x="0" y="0" font-size="10.8" font-weight="bold" text-anchor="middle">Response over baseline</text>
<path d="M515.04 165.57 L516.42 165.26 L517.79 164.91 L519.17 164.51 L520.55 164.06 L521.92 163.55 L523.3 162.97 L524.67 162.31 L526.05 161.57 L527.42 160.73 L528.8 159.8 L530.17 158.74 L531.55 157.56 L532.92 156.24 L534.3 154.77 L535.68 153.14 L537.05 151.34 L538.43 149.35 L539.8 147.17 L541.18 144.79 L542.55 142.21 L543.93 139.42 L545.3 136.42 L546.68 133.22 L548.05 129.84 L549.43 126.28 L550.81 122.57 L552.18 118.73 L553.56 114.8 L554.93 110.79 L556.31 106.76 L557.68 102.73 L559.06 98.73 L560.43 94.81 L561.81 90.99 L563.19 87.31 L564.56 83.78 L565.94 80.43 L567.31 77.26 L568.69 74.3 L570.06 71.55 L571.44 69 L572.81 66.65 L574.19 64.51 L575.56 62.55 L576.94 60.78 L578.32 59.18 L579.69 57.73 L581.07 56.44 L582.44 55.28 L583.82 54.25 L585.19 53.33 L586.57 52.51 L587.94 51.79 L589.32 51.14 L590.69 50.58 L592.07 50.07 L593.45 49.63 L594.82 49.24 L596.2 48.9 L597.57 48.59 L598.95 48.33 L600.32 48.09 L601.7 47.89 L603.07 47.71 L604.45 47.55 L605.82 47.41 L607.2 47.29 L608.58 47.18 L609.95 47.09 L611.33 47 L612.7 46.93 L614.08 46.87 L615.45 46.81 L616.83 46.77 L618.2 46.72 L619.58 46.69 L620.95 46.65 L622.33 46.63 L623.71 46.6 L625.08 46.58 L626.46 46.56 L627.83 46.54 L629.21 46.53 L630.58 46.51 L631.96 46.5 L633.33 46.49 L634.71 46.49 L636.08 46.48 L637.46 46.47 L638.84 46.47 L640.21 46.46 L641.59 46.46 L642.96 46.45 L644.34 46.45 L645.71 46.45 L647.09 46.44 L648.46 46.44 L649.84 46.44 L651.22 46.44 L652.59 46.44 L653.97 46.43 L655.34 46.43 L656.72 46.43 L658.09 46.43 L659.47 46.43 L660.84 46.43 L662.22 46.43 L663.59 46.43 L664.97 46.43 L666.35 46.43 L667.72 46.43 L669.1 46.43 L670.47 46.43 L671.85 46.43 L673.22 46.43 L674.6 46.43 L675.97 46.43 L677.35 46.43 L678.72 46.43 L680.1 46.43" stroke="#000" stroke-width="1.2" fill="none"/>
<path d="M515.04 165.67 L516.42 165.37 L517.79 165.04 L519.17 164.66 L520.55 164.22 L521.92 163.73 L523.3 163.18 L524.67 162.55 L526.05 161.84 L527.42 161.03 L528.8 160.13 L530.17 159.12 L531.55 157.99 L532.92 156.72 L534.3 155.3 L535.68 153.73 L537.05 151.98 L538.43 150.06 L539.8 147.95 L541.18 145.64 L542.55 143.13 L543.93 140.4 L545.3 137.48 L546.68 134.35 L548.05 131.03 L549.43 127.53 L550.81 123.87 L552.18 120.07 L553.56 116.17 L554.93 112.18 L556.31 108.16 L557.68 104.12 L559.06 100.11 L560.43 96.16 L561.81 92.3 L563.19 88.57 L564.56 84.98 L565.94 81.57 L567.31 78.34 L568.69 75.3 L570.06 72.48 L571.44 69.85 L572.81 67.44 L574.19 65.23 L575.56 63.21 L576.94 61.37 L578.32 59.71 L579.69 58.22 L581.07 56.87 L582.44 55.67 L583.82 54.59 L585.19 53.64 L586.57 52.78 L587.94 52.03 L589.32 51.36 L590.69 50.76 L592.07 50.24 L593.45 49.78 L594.82 49.37 L596.2 49.01 L597.57 48.69 L598.95 48.42 L600.32 48.17 L601.7 47.96 L603.07 47.77 L604.45 47.6 L605.82 47.46 L607.2 47.33 L608.58 47.22 L609.95 47.12 L611.33 47.03 L612.7 46.96 L614.08 46.89 L615.45 46.83 L616.83 46.78 L618.2 46.74 L619.58 46.7 L620.95 46.66 L622.33 46.63 L623.71 46.61 L625.08 46.59 L626.46 46.57 L627.83 46.55 L629.21 46.53 L630.58 46.52 L631.96 46.51 L633.33 46.5 L634.71 46.49 L636.08 46.48 L637.46 46.47 L638.84 46.47 L640.21 46.46 L641.59 46.46 L642.96 46.45 L644.34 46.45 L645.71 46.45 L647.09 46.44 L648.46 46.44 L649.84 46.44 L651.22 46.44 L652.59 46.44 L653.97 46.43 L655.34 46.43 L656.72 46.43 L658.09 46.43 L659.47 46.43 L660.84 46.43 L662.22 46.43 L663.59 46.43 L664.97 46.43 L666.35 46.43 L667.72 46.43 L669.1 46.43 L670.47 46.43 L671.85 46.43 L673.22 46.43 L674.6 46.43 L675.97 46.43 L677.35 46.43 L678.72 46.43 L680.1 46.43" stroke="#000" stroke-width="1.2" fill="none"/>
<path d="M515.04 166.06 L516.42 165.82 L517.79 165.54 L519.17 165.23 L520.55 164.87 L521.92 164.47 L523.3 164.01 L524.67 163.49 L526.05 162.91 L527.42 162.24 L528.8 161.49 L530.17 160.65 L531.55 159.7 L532.92 158.63 L534.3 157.44 L535.68 156.11 L537.05 154.62 L538.43 152.98 L539.8 151.15 L541.18 149.15 L542.55 146.95 L543.93 144.55 L545.3 141.94 L546.68 139.13 L548.05 136.11 L549.43 132.9 L550.81 129.5 L552.18 125.92 L553.56 122.2 L554.93 118.35 L556.31 114.41 L557.68 110.4 L559.06 106.36 L560.43 102.33 L561.81 98.34 L563.19 94.43 L564.56 90.63 L565.94 86.95 L567.31 83.44 L568.69 80.11 L570.06 76.97 L571.44 74.02 L572.81 71.29 L574.19 68.76 L575.56 66.43 L576.94 64.31 L578.32 62.37 L579.69 60.61 L581.07 59.03 L582.44 57.6 L583.82 56.32 L585.19 55.18 L586.57 54.15 L587.94 53.25 L589.32 52.44 L590.69 51.72 L592.07 51.09 L593.45 50.52 L594.82 50.03 L596.2 49.59 L597.57 49.2 L598.95 48.86 L600.32 48.57 L601.7 48.3 L603.07 48.07 L604.45 47.87 L605.82 47.69 L607.2 47.53 L608.58 47.4 L609.95 47.28 L611.33 47.17 L612.7 47.08 L614.08 47 L615.45 46.93 L616.83 46.86 L618.2 46.81 L619.58 46.76 L620.95 46.72 L622.33 46.68 L623.71 46.65 L625.08 46.62 L626.46 46.6 L627.83 46.58 L629.21 46.56 L630.58 46.54 L631.96 46.53 L633.33 46.51 L634.71 46.5 L636.08 46.49 L637.46 46.48 L638.84 46.48 L640.21 46.47 L641.59 46.46 L642.96 46.46 L644.34 46.46 L645.71 46.45 L647.09 46.45 L648.46 46.45 L649.84 46.44 L651.22 46.44 L652.59 46.44 L653.97 46.44 L655.34 46.44 L656.72 46.43 L658.09 46.43 L659.47 46.43 L660.84 46.43 L662.22 46.43 L663.59 46.43 L664.97 46.43 L666.35 46.43 L667.72 46.43 L669.1 46.43 L670.47 46.43 L671.85 46.43 L673.22 46.43 L674.6 46.43 L675.97 46.43 L677.35 46.43 L678.72 46.43 L680.1 46.43" stroke="#000" stroke-width="1.2" fill="none"/>
<path d="M515.04 166.41 L516.42 166.22 L517.79 166 L519.17 165.75 L520.55 165.46 L521.92 165.14 L523.3 164.77 L524.67 164.35 L526.05 163.88 L527.42 163.34 L528.8 162.73 L530.17 162.05 L531.55 161.27 L532.92 160.4 L534.3 159.42 L535.68 158.32 L537.05 157.09 L538.43 155.72 L539.8 154.19 L541.18 152.5 L542.55 150.63 L543.93 148.57 L545.3 146.32 L546.68 143.86 L548.05 141.2 L549.43 138.33 L550.81 135.26 L552.18 132 L553.56 128.55 L554.93 124.93 L556.31 121.17 L557.68 117.29 L559.06 113.33 L560.43 109.31 L561.81 105.27 L563.19 101.25 L564.56 97.27 L565.94 93.39 L567.31 89.62 L568.69 85.99 L570.06 82.52 L571.44 79.24 L572.81 76.15 L574.19 73.26 L575.56 70.58 L576.94 68.11 L578.32 65.84 L579.69 63.76 L581.07 61.88 L582.44 60.17 L583.82 58.63 L585.19 57.24 L586.57 56 L587.94 54.89 L589.32 53.9 L590.69 53.02 L592.07 52.23 L593.45 51.54 L594.82 50.93 L596.2 50.38 L597.57 49.9 L598.95 49.48 L600.32 49.11 L601.7 48.78 L603.07 48.49 L604.45 48.24 L605.82 48.01 L607.2 47.82 L608.58 47.65 L609.95 47.5 L611.33 47.36 L612.7 47.25 L614.08 47.14 L615.45 47.06 L616.83 46.98 L618.2 46.91 L619.58 46.85 L620.95 46.8 L622.33 46.75 L623.71 46.71 L625.08 46.67 L626.46 46.64 L627.83 46.62 L629.21 46.59 L630.58 46.57 L631.96 46.55 L633.33 46.54 L634.71 46.52 L636.08 46.51 L637.46 46.5 L638.84 46.49 L640.21 46.48 L641.59 46.48 L642.96 46.47 L644.34 46.46 L645.71 46.46 L647.09 46.45 L648.46 46.45 L649.84 46.45 L651.22 46.44 L652.59 46.44 L653.97 46.44 L655.34 46.44 L656.72 46.44 L658.09 46.43 L659.47 46.43 L660.84 46.43 L662.22 46.43 L663.59 46.43 L664.97 46.43 L666.35 46.43 L667.72 46.43 L669.1 46.43 L670.47 46.43 L671.85 46.43 L673.22 46.43 L674.6 46.43 L675.97 46.43 L677.35 46.43 L678.72 46.43 L680.1 46.43" stroke="#000" stroke-width="1.2" fill="none"/>
<path d="M515.04 167.4 L516.42 167.34 L517.79 167.28 L519.17 167.21 L520.55 167.13 L521.92 167.03 L523.3 166.92 L524.67 166.8 L526.05 166.66 L527.42 166.5 L528.8 166.32 L530.17 166.12 L531.55 165.88 L532.92 165.61 L534.3 165.31 L535.68 164.96 L537.05 164.57 L538.43 164.13 L539.8 163.62 L541.18 163.05 L542.55 162.41 L543.93 161.68 L545.3 160.86 L546.68 159.94 L548.05 158.9 L549.43 157.74 L550.81 156.44 L552.18 154.99 L553.56 153.38 L554.93 151.61 L556.31 149.65 L557.68 147.49 L559.06 145.14 L560.43 142.59 L561.81 139.82 L563.19 136.85 L564.56 133.69 L565.94 130.33 L567.31 126.79 L568.69 123.1 L570.06 119.28 L571.44 115.36 L572.81 111.36 L574.19 107.33 L575.56 103.29 L576.94 99.29 L578.32 95.36 L579.69 91.52 L581.07 87.82 L582.44 84.27 L583.82 80.89 L585.19 77.7 L586.57 74.71 L587.94 71.92 L589.32 69.34 L590.69 66.97 L592.07 64.8 L593.45 62.82 L594.82 61.02 L596.2 59.39 L597.57 57.93 L598.95 56.61 L600.32 55.44 L601.7 54.39 L603.07 53.45 L604.45 52.62 L605.82 51.88 L607.2 51.23 L608.58 50.65 L609.95 50.14 L611.33 49.69 L612.7 49.29 L614.08 48.94 L615.45 48.63 L616.83 48.36 L618.2 48.12 L619.58 47.92 L620.95 47.73 L622.33 47.57 L623.71 47.43 L625.08 47.3 L626.46 47.2 L627.83 47.1 L629.21 47.02 L630.58 46.94 L631.96 46.88 L633.33 46.82 L634.71 46.77 L636.08 46.73 L637.46 46.69 L638.84 46.66 L640.21 46.63 L641.59 46.6 L642.96 46.58 L644.34 46.56 L645.71 46.54 L647.09 46.53 L648.46 46.52 L649.84 46.51 L651.22 46.5 L652.59 46.49 L653.97 46.48 L655.34 46.47 L656.72 46.47 L658.09 46.46 L659.47 46.46 L660.84 46.45 L662.22 46.45 L663.59 46.45 L664.97 46.44 L666.35 46.44 L667.72 46.44 L669.1 46.44 L670.47 46.44 L671.85 46.43 L673.22 46.43 L674.6 46.43 L675.97 46.43 L677.35 46.43 L678.72 46.43 L680.1 46.43" stroke="#000" stroke-width="1.2" fill="none"/>
<path d="M515.04 167.59 L516.42 167.56 L517.79 167.52 L519.17 167.48 L520.55 167.44 L521.92 167.39 L523.3 167.33 L524.67 167.27 L526.05 167.2 L527.42 167.11 L528.8 167.02 L530.17 166.91 L531.55 166.78 L532.92 166.64 L534.3 166.48 L535.68 166.29 L537.05 166.08 L538.43 165.84 L539.8 165.57 L541.18 165.26 L542.55 164.91 L543.93 164.51 L545.3 164.05 L546.68 163.54 L548.05 162.96 L549.43 162.3 L550.81 161.56 L552.18 160.72 L553.56 159.78 L554.93 158.72 L556.31 157.54 L557.68 156.22 L559.06 154.75 L560.43 153.11 L561.81 151.31 L563.19 149.32 L564.56 147.13 L565.94 144.75 L567.31 142.16 L568.69 139.37 L570.06 136.37 L571.44 133.17 L572.81 129.78 L574.19 126.22 L575.56 122.51 L576.94 118.67 L578.32 114.73 L579.69 110.73 L581.07 106.69 L582.44 102.66 L583.82 98.66 L585.19 94.74 L586.57 90.93 L587.94 87.25 L589.32 83.72 L590.69 80.37 L592.07 77.21 L593.45 74.25 L594.82 71.5 L596.2 68.95 L597.57 66.61 L598.95 64.47 L600.32 62.52 L601.7 60.75 L603.07 59.15 L604.45 57.71 L605.82 56.42 L607.2 55.26 L608.58 54.23 L609.95 53.31 L611.33 52.5 L612.7 51.77 L614.08 51.13 L615.45 50.57 L616.83 50.07 L618.2 49.62 L619.58 49.23 L620.95 48.89 L622.33 48.59 L623.71 48.32 L625.08 48.09 L626.46 47.88 L627.83 47.7 L629.21 47.55 L630.58 47.41 L631.96 47.29 L633.33 47.18 L634.71 47.09 L636.08 47 L637.46 46.93 L638.84 46.87 L640.21 46.81 L641.59 46.77 L642.96 46.72 L644.34 46.69 L645.71 46.65 L647.09 46.62 L648.46 46.6 L649.84 46.58 L651.22 46.56 L652.59 46.54 L653.97 46.53 L655.34 46.51 L656.72 46.5 L658.09 46.49 L659.47 46.49 L660.84 46.48 L662.22 46.47 L663.59 46.47 L664.97 46.46 L666.35 46.46 L667.72 46.45 L669.1 46.45 L670.47 46.45 L671.85 46.44 L673.22 46.44 L674.6 46.44 L675.97 46.44 L677.35 46.44 L678.72 46.43 L680.1 46.43" stroke="#000" stroke-width="1.2" fill="none"/>
<path d="M584.97 92.26V85.72M582.37 92.26H587.57M582.37 85.72H587.57" stroke="#000" stroke-width="0.9" fill="none"/>
<path d="M584.97 64.11V57.56M582.37 64.11H587.57M582.37 57.56H587.57" stroke="#000" stroke-width="0.9" fill="none"/>
<path d="M608.75 50.57V44.02M606.15 50.57H611.35M606.15 44.02H611.35" stroke="#000" stroke-width="0.9" fill="none"/>
<path d="M656.32 39.55V31.91M653.72 39.55H658.92M653.72 31.91H658.92" stroke="#000" stroke-width="0.9" fill="none"/>
<path d="M680.1 45.99V35.07M677.5 45.99H682.7M677.5 35.07H682.7" stroke="#000" stroke-width="0.9" fill="none"/>
<circle cx="515.04" cy="164.52" r="2.6" fill="#fff" stroke="#000" stroke-width="0.9"/>
<rect x="512.54" y="162.02" width="5" height="5" fill="#fff" stroke="#000" stroke-width="0.9"/>
<path d="M515.04 167.42L517.84 161.92L512.24 161.92Z" fill="#000"/>
<path d="M515.04 160.53L517.84 166.03L512.24 166.03Z" fill="#000"/>
<circle cx="515.04" cy="164.52" r="2.6" fill="#000"/>
<rect x="512.59" y="160.98" width="4.9" height="4.9" fill="#000"/>
<circle cx="561.18" cy="162.01" r="2.6" fill="#fff" stroke="#000" stroke-width="0.9"/>
<rect x="558.68" y="139.86" width="5" height="5" fill="#fff" stroke="#000" stroke-width="0.9"/>
<path d="M561.18 111.75L563.98 106.25L558.38 106.25Z" fill="#000"/>
<path d="M561.18 102.68L563.98 108.18L558.38 108.18Z" fill="#000"/>
<circle cx="561.18" cy="101.21" r="2.6" fill="#000"/>
<rect x="558.73" y="91.89" width="4.9" height="4.9" fill="#000"/>
<circle cx="584.97" cy="88.99" r="2.6" fill="#fff" stroke="#000" stroke-width="0.9"/>
<rect x="582.47" y="73.39" width="5" height="5" fill="#fff" stroke="#000" stroke-width="0.9"/>
<path d="M584.97 65.91L587.77 60.41L582.17 60.41Z" fill="#000"/>
<path d="M584.97 59.02L587.77 64.52L582.17 64.52Z" fill="#000"/>
<rect x="582.52" y="58.38" width="4.9" height="4.9" fill="#000"/>
<circle cx="584.97" cy="57.56" r="2.6" fill="#000"/>
<circle cx="608.75" cy="60.83" r="2.6" fill="#fff" stroke="#000" stroke-width="0.9"/>
<rect x="606.25" y="57.24" width="5" height="5" fill="#fff" stroke="#000" stroke-width="0.9"/>
<path d="M608.75 51.73L611.55 46.23L605.95 46.23Z" fill="#000"/>
<path d="M608.75 44.83L611.55 50.33L605.95 50.33Z" fill="#000"/>
<rect x="606.3" y="44.85" width="4.9" height="4.9" fill="#000"/>
<circle cx="608.75" cy="46.64" r="2.6" fill="#000"/>
<circle cx="632.53" cy="52.1" r="2.6" fill="#fff" stroke="#000" stroke-width="0.9"/>
<rect x="630.03" y="49.93" width="5" height="5" fill="#fff" stroke="#000" stroke-width="0.9"/>
<path d="M632.53 47.36L635.33 41.86L629.73 41.86Z" fill="#000"/>
<path d="M632.53 38.29L635.33 43.79L629.73 43.79Z" fill="#000"/>
<rect x="630.08" y="37.64" width="4.9" height="4.9" fill="#000"/>
<circle cx="632.53" cy="36.93" r="2.6" fill="#000"/>
<circle cx="656.32" cy="50.35" r="2.6" fill="#fff" stroke="#000" stroke-width="0.9"/>
<rect x="653.82" y="47.85" width="5" height="5" fill="#fff" stroke="#000" stroke-width="0.9"/>
<path d="M656.32 50.63L659.12 45.13L653.52 45.13Z" fill="#000"/>
<path d="M656.32 43.74L659.12 49.24L653.52 49.24Z" fill="#000"/>
<rect x="653.87" y="43.32" width="4.9" height="4.9" fill="#000"/>
<circle cx="656.32" cy="35.73" r="2.6" fill="#000"/>
<circle cx="680.1" cy="51.01" r="2.6" fill="#fff" stroke="#000" stroke-width="0.9"/>
<rect x="677.6" y="48.51" width="5" height="5" fill="#fff" stroke="#000" stroke-width="0.9"/>
<path d="M680.1 49.54L682.9 44.04L677.3 44.04Z" fill="#000"/>
<rect x="677.65" y="41.36" width="4.9" height="4.9" fill="#000"/>
<circle cx="680.1" cy="44.46" r="2.6" fill="#000"/>
<path d="M680.1 37.63L682.9 43.13L677.3 43.13Z" fill="#000"/>
<text transform="translate(640.7 92.1) scale(0.9 1)" font-size="8.8" fill="#2a2a2a"><tspan font-style="italic">N</tspan>-Desalkyl-</text>
<text transform="translate(641.7 101.5) scale(0.9 1)" font-size="8.8" fill="#2a2a2a">quetiapine:</text>
<rect x="643.85" y="110.15" width="4.9" height="4.9" fill="#000"/>
<text transform="translate(655.3 116) scale(0.9 1)" font-size="8.8" fill="#2a2a2a">-</text>
<circle cx="646.3" cy="122.45" r="2.6" fill="#000"/>
<text transform="translate(655.3 125.85) scale(0.9 1)" font-size="8.8" fill="#2a2a2a">100 nM</text>
<path d="M646.3 129.4L649.1 134.9L643.5 134.9Z" fill="#000"/>
<text transform="translate(655.3 135.7) scale(0.9 1)" font-size="8.8" fill="#2a2a2a">1 µM</text>
<path d="M646.3 145.05L649.1 139.55L643.5 139.55Z" fill="#000"/>
<text transform="translate(655.3 145.55) scale(0.9 1)" font-size="8.8" fill="#2a2a2a">3.2  µM</text>
<rect x="643.8" y="149.5" width="5" height="5" fill="#fff" stroke="#000" stroke-width="0.9"/>
<text transform="translate(655.3 155.4) scale(0.9 1)" font-size="8.8" fill="#2a2a2a">10 µM</text>
<circle cx="646.3" cy="161.85" r="2.6" fill="#fff" stroke="#000" stroke-width="0.9"/>
<text transform="translate(655.3 165.25) scale(0.9 1)" font-size="8.8" fill="#2a2a2a">32 µM</text>
<text x="5.0" y="245.2" font-size="14" font-weight="bold" text-anchor="middle">d</text>
<text x="99.4" y="246.7" font-size="12.5" font-weight="bold">H</text><text x="108.9" y="249.7" font-size="9.2" font-weight="bold">1</text><text x="118.4" y="246.7" font-size="12" textLength="66.6" lengthAdjust="spacingAndGlyphs">(Histamine)</text>
<path d="M37.2 250.1V413.1" stroke="#000" stroke-width="1.6" fill="none"/>
<path d="M34 408.8H37.2" stroke="#000" stroke-width="1.2"/>
<text transform="translate(31.7 412.4) scale(0.87 1)" font-size="10.2" font-weight="bold" text-anchor="end">1.0</text>
<path d="M34 386.13H37.2" stroke="#000" stroke-width="1.2"/>
<text transform="translate(31.7 389.73) scale(0.87 1)" font-size="10.2" font-weight="bold" text-anchor="end">1.5</text>
<path d="M34 363.46H37.2" stroke="#000" stroke-width="1.2"/>
<text transform="translate(31.7 367.06) scale(0.87 1)" font-size="10.2" font-weight="bold" text-anchor="end">2.0</text>
<path d="M34 340.79H37.2" stroke="#000" stroke-width="1.2"/>
<text transform="translate(31.7 344.39) scale(0.87 1)" font-size="10.2" font-weight="bold" text-anchor="end">2.5</text>
<path d="M34 318.11H37.2" stroke="#000" stroke-width="1.2"/>
<text transform="translate(31.7 321.71) scale(0.87 1)" font-size="10.2" font-weight="bold" text-anchor="end">3.0</text>
<path d="M34 295.44H37.2" stroke="#000" stroke-width="1.2"/>
<text transform="translate(31.7 299.04) scale(0.87 1)" font-size="10.2" font-weight="bold" text-anchor="end">3.5</text>
<path d="M34 272.77H37.2" stroke="#000" stroke-width="1.2"/>
<text transform="translate(31.7 276.37) scale(0.87 1)" font-size="10.2" font-weight="bold" text-anchor="end">4.0</text>
<path d="M34 250.1H37.2" stroke="#000" stroke-width="1.2"/>
<text transform="translate(31.7 253.7) scale(0.87 1)" font-size="10.2" font-weight="bold" text-anchor="end">4.5</text>
<path d="M45.4 421.8H210.5" stroke="#000" stroke-width="1.6" fill="none"/>
<path d="M45.4 421.8V425.2" stroke="#000" stroke-width="1.2"/>
<text transform="translate(45.1 436.7) scale(0.87 1)" font-size="10.2" font-weight="bold" text-anchor="middle">-10</text>
<path d="M78.42 421.8V425.2" stroke="#000" stroke-width="1.2"/>
<text transform="translate(78.12 436.7) scale(0.87 1)" font-size="10.2" font-weight="bold" text-anchor="middle">-9</text>
<path d="M111.44 421.8V425.2" stroke="#000" stroke-width="1.2"/>
<text transform="translate(111.14 436.7) scale(0.87 1)" font-size="10.2" font-weight="bold" text-anchor="middle">-8</text>
<path d="M144.46 421.8V425.2" stroke="#000" stroke-width="1.2"/>
<text transform="translate(144.16 436.7) scale(0.87 1)" font-size="10.2" font-weight="bold" text-anchor="middle">-7</text>
<path d="M177.48 421.8V425.2" stroke="#000" stroke-width="1.2"/>
<text transform="translate(177.18 436.7) scale(0.87 1)" font-size="10.2" font-weight="bold" text-anchor="middle">-6</text>
<path d="M210.5 421.8V425.2" stroke="#000" stroke-width="1.2"/>
<text transform="translate(210.2 436.7) scale(0.87 1)" font-size="10.2" font-weight="bold" text-anchor="middle">-5</text>
<text x="127.95" y="449.2" font-size="10.5" font-weight="bold" text-anchor="middle">log c</text>
<text transform="translate(9.3 331.4) rotate(-90)" x="0" y="0" font-size="10.8" font-weight="bold" text-anchor="middle">Response over baseline</text>
<path d="M45.4 408.76 L46.78 408.55 L48.15 408.31 L49.53 408.05 L50.9 407.76 L52.28 407.43 L53.66 407.07 L55.03 406.67 L56.41 406.22 L57.78 405.72 L59.16 405.18 L60.53 404.57 L61.91 403.9 L63.29 403.16 L64.66 402.34 L66.04 401.43 L67.41 400.44 L68.79 399.35 L70.16 398.15 L71.54 396.84 L72.92 395.41 L74.29 393.85 L75.67 392.15 L77.04 390.3 L78.42 388.31 L79.8 386.16 L81.17 383.85 L82.55 381.38 L83.92 378.74 L85.3 375.94 L86.67 372.98 L88.05 369.87 L89.43 366.6 L90.8 363.2 L92.18 359.67 L93.55 356.04 L94.93 352.31 L96.31 348.51 L97.68 344.67 L99.06 340.8 L100.43 336.92 L101.81 333.07 L103.19 329.26 L104.56 325.51 L105.94 321.86 L107.31 318.3 L108.69 314.87 L110.06 311.57 L111.44 308.42 L112.82 305.42 L114.19 302.58 L115.57 299.9 L116.94 297.39 L118.32 295.04 L119.69 292.85 L121.07 290.82 L122.45 288.95 L123.82 287.21 L125.2 285.62 L126.57 284.16 L127.95 282.82 L129.33 281.59 L130.7 280.48 L132.08 279.46 L133.45 278.54 L134.83 277.7 L136.2 276.94 L137.58 276.25 L138.96 275.63 L140.33 275.07 L141.71 274.56 L143.08 274.1 L144.46 273.69 L145.84 273.32 L147.21 272.98 L148.59 272.68 L149.96 272.41 L151.34 272.17 L152.71 271.95 L154.09 271.76 L155.47 271.58 L156.84 271.42 L158.22 271.28 L159.59 271.15 L160.97 271.04 L162.35 270.94 L163.72 270.84 L165.1 270.76 L166.47 270.69 L167.85 270.62 L169.22 270.56 L170.6 270.51 L171.98 270.46 L173.35 270.42 L174.73 270.38 L176.1 270.35 L177.48 270.31 L178.86 270.29 L180.23 270.26 L181.61 270.24 L182.98 270.22 L184.36 270.2 L185.73 270.19 L187.11 270.17 L188.49 270.16 L189.86 270.15 L191.24 270.14 L192.61 270.13 L193.99 270.12 L195.37 270.11 L196.74 270.11 L198.12 270.1 L199.49 270.1 L200.87 270.09 L202.25 270.09 L203.62 270.08 L205 270.08 L206.37 270.08 L207.75 270.07 L209.12 270.07 L210.5 270.07" stroke="#000" stroke-width="1.2" fill="none"/>
<path d="M45.4 409.39 L46.78 409.26 L48.15 409.11 L49.53 408.94 L50.9 408.76 L52.28 408.55 L53.66 408.33 L55.03 408.08 L56.41 407.8 L57.78 407.5 L59.16 407.16 L60.53 406.79 L61.91 406.37 L63.29 405.92 L64.66 405.41 L66.04 404.86 L67.41 404.24 L68.79 403.57 L70.16 402.83 L71.54 402.02 L72.92 401.13 L74.29 400.15 L75.67 399.08 L77.04 397.91 L78.42 396.64 L79.8 395.25 L81.17 393.75 L82.55 392.12 L83.92 390.35 L85.3 388.46 L86.67 386.41 L88.05 384.23 L89.43 381.89 L90.8 379.4 L92.18 376.76 L93.55 373.98 L94.93 371.05 L96.31 367.98 L97.68 364.78 L99.06 361.46 L100.43 358.04 L101.81 354.52 L103.19 350.93 L104.56 347.28 L105.94 343.59 L107.31 339.89 L108.69 336.18 L110.06 332.5 L111.44 328.86 L112.82 325.29 L114.19 321.79 L115.57 318.39 L116.94 315.1 L118.32 311.94 L119.69 308.9 L121.07 306 L122.45 303.25 L123.82 300.65 L125.2 298.2 L126.57 295.9 L127.95 293.75 L129.33 291.74 L130.7 289.87 L132.08 288.14 L133.45 286.54 L134.83 285.07 L136.2 283.71 L137.58 282.46 L138.96 281.32 L140.33 280.27 L141.71 279.32 L143.08 278.44 L144.46 277.65 L145.84 276.93 L147.21 276.27 L148.59 275.67 L149.96 275.13 L151.34 274.64 L152.71 274.19 L154.09 273.79 L155.47 273.42 L156.84 273.09 L158.22 272.79 L159.59 272.52 L160.97 272.28 L162.35 272.06 L163.72 271.86 L165.1 271.68 L166.47 271.52 L167.85 271.37 L169.22 271.24 L170.6 271.12 L171.98 271.02 L173.35 270.92 L174.73 270.83 L176.1 270.76 L177.48 270.69 L178.86 270.62 L180.23 270.57 L181.61 270.51 L182.98 270.47 L184.36 270.43 L185.73 270.39 L187.11 270.36 L188.49 270.32 L189.86 270.3 L191.24 270.27 L192.61 270.25 L193.99 270.23 L195.37 270.21 L196.74 270.2 L198.12 270.18 L199.49 270.17 L200.87 270.16 L202.25 270.15 L203.62 270.14 L205 270.13 L206.37 270.12 L207.75 270.11 L209.12 270.11 L210.5 270.1" stroke="#000" stroke-width="1.2" fill="none"/>
<path d="M45.4 411.25 L46.78 411.2 L48.15 411.14 L49.53 411.08 L50.9 411.01 L52.28 410.94 L53.66 410.86 L55.03 410.77 L56.41 410.67 L57.78 410.57 L59.16 410.45 L60.53 410.32 L61.91 410.18 L63.29 410.02 L64.66 409.85 L66.04 409.66 L67.41 409.45 L68.79 409.22 L70.16 408.98 L71.54 408.7 L72.92 408.4 L74.29 408.07 L75.67 407.72 L77.04 407.32 L78.42 406.89 L79.8 406.42 L81.17 405.91 L82.55 405.35 L83.92 404.73 L85.3 404.07 L86.67 403.34 L88.05 402.55 L89.43 401.68 L90.8 400.75 L92.18 399.74 L93.55 398.64 L94.93 397.45 L96.31 396.17 L97.68 394.79 L99.06 393.31 L100.43 391.71 L101.81 390 L103.19 388.18 L104.56 386.23 L105.94 384.16 L107.31 381.97 L108.69 379.65 L110.06 377.21 L111.44 374.64 L112.82 371.95 L114.19 369.15 L115.57 366.24 L116.94 363.22 L118.32 360.12 L119.69 356.93 L121.07 353.67 L122.45 350.36 L123.82 347 L125.2 343.62 L126.57 340.22 L127.95 336.83 L129.33 333.45 L130.7 330.11 L132.08 326.81 L133.45 323.58 L134.83 320.43 L136.2 317.36 L137.58 314.38 L138.96 311.52 L140.33 308.76 L141.71 306.12 L143.08 303.6 L144.46 301.21 L145.84 298.94 L147.21 296.79 L148.59 294.77 L149.96 292.88 L151.34 291.1 L152.71 289.44 L154.09 287.89 L155.47 286.44 L156.84 285.1 L158.22 283.86 L159.59 282.71 L160.97 281.65 L162.35 280.66 L163.72 279.76 L165.1 278.93 L166.47 278.16 L167.85 277.46 L169.22 276.81 L170.6 276.22 L171.98 275.68 L173.35 275.18 L174.73 274.73 L176.1 274.31 L177.48 273.93 L178.86 273.59 L180.23 273.27 L181.61 272.98 L182.98 272.72 L184.36 272.48 L185.73 272.26 L187.11 272.06 L188.49 271.88 L189.86 271.72 L191.24 271.56 L192.61 271.43 L193.99 271.3 L195.37 271.19 L196.74 271.09 L198.12 270.99 L199.49 270.91 L200.87 270.83 L202.25 270.76 L203.62 270.69 L205 270.63 L206.37 270.58 L207.75 270.53 L209.12 270.49 L210.5 270.45" stroke="#000" stroke-width="1.2" fill="none"/>
<path d="M78.42 394.29V380.69M75.82 394.29H81.02M75.82 380.69H81.02" stroke="#000" stroke-width="0.9" fill="none"/>
<path d="M111.44 394.29V361.64M108.84 394.29H114.04M108.84 361.64H114.04" stroke="#000" stroke-width="0.9" fill="none"/>
<path d="M111.44 309.95V296.35M108.84 309.95H114.04M108.84 296.35H114.04" stroke="#000" stroke-width="0.9" fill="none"/>
<path d="M111.44 316.3V302.7M108.84 316.3H114.04M108.84 302.7H114.04" stroke="#000" stroke-width="0.9" fill="none"/>
<path d="M144.46 307.69V296.8M141.86 307.69H147.06M141.86 296.8H147.06" stroke="#000" stroke-width="0.9" fill="none"/>
<path d="M144.46 294.54V280.93M141.86 294.54H147.06M141.86 280.93H147.06" stroke="#000" stroke-width="0.9" fill="none"/>
<path d="M177.48 291.36V285.92M174.88 291.36H180.08M174.88 285.92H180.08" stroke="#000" stroke-width="0.9" fill="none"/>
<circle cx="45.4" cy="408.8" r="2.6" fill="#fff" stroke="#000" stroke-width="0.9"/>
<rect x="42.9" y="406.3" width="5" height="5" fill="#fff" stroke="#000" stroke-width="0.9"/>
<circle cx="45.4" cy="408.35" r="2.6" fill="#000"/>
<rect x="42.95" y="405.44" width="4.9" height="4.9" fill="#000"/>
<circle cx="78.42" cy="407.89" r="2.6" fill="#fff" stroke="#000" stroke-width="0.9"/>
<rect x="75.92" y="395.87" width="5" height="5" fill="#fff" stroke="#000" stroke-width="0.9"/>
<circle cx="78.42" cy="394.29" r="2.6" fill="#000"/>
<rect x="75.97" y="385.04" width="4.9" height="4.9" fill="#000"/>
<circle cx="111.44" cy="377.97" r="2.6" fill="#fff" stroke="#000" stroke-width="0.9"/>
<rect x="108.94" y="323.32" width="5" height="5" fill="#fff" stroke="#000" stroke-width="0.9"/>
<circle cx="111.44" cy="303.15" r="2.6" fill="#000"/>
<rect x="108.99" y="307.05" width="4.9" height="4.9" fill="#000"/>
<circle cx="144.46" cy="302.24" r="2.6" fill="#fff" stroke="#000" stroke-width="0.9"/>
<rect x="141.96" y="285.23" width="5" height="5" fill="#fff" stroke="#000" stroke-width="0.9"/>
<circle cx="144.46" cy="275.95" r="2.6" fill="#000"/>
<rect x="142.01" y="271.45" width="4.9" height="4.9" fill="#000"/>
<circle cx="177.48" cy="288.64" r="2.6" fill="#fff" stroke="#000" stroke-width="0.9"/>
<rect x="174.98" y="268.46" width="5" height="5" fill="#fff" stroke="#000" stroke-width="0.9"/>
<circle cx="177.48" cy="270.96" r="2.6" fill="#000"/>
<rect x="175.03" y="260.8" width="4.9" height="4.9" fill="#000"/>
<circle cx="210.5" cy="275.95" r="2.6" fill="#fff" stroke="#000" stroke-width="0.9"/>
<rect x="208" y="265.28" width="5" height="5" fill="#fff" stroke="#000" stroke-width="0.9"/>
<circle cx="210.5" cy="266.88" r="2.6" fill="#000"/>
<rect x="208.05" y="259.89" width="4.9" height="4.9" fill="#000"/>
<text transform="translate(170.5 326.5) scale(0.9 1)" font-size="8.8" fill="#2a2a2a"><tspan font-style="italic">N</tspan>-Desalkyl-</text>
<text transform="translate(171.5 335.9) scale(0.9 1)" font-size="8.8" fill="#2a2a2a">quetiapine:</text>
<rect x="172.35" y="352.25" width="4.9" height="4.9" fill="#000"/>
<text transform="translate(183.8 358.1) scale(0.9 1)" font-size="8.8" fill="#2a2a2a">-</text>
<circle cx="174.8" cy="367.9" r="2.6" fill="#000"/>
<text transform="translate(183.8 371.3) scale(0.9 1)" font-size="8.8" fill="#2a2a2a">10 nM</text>
<rect x="172.3" y="378.6" width="5" height="5" fill="#fff" stroke="#000" stroke-width="0.9"/>
<text transform="translate(183.8 384.5) scale(0.9 1)" font-size="8.8" fill="#2a2a2a">100 nM</text>
<circle cx="174.8" cy="394.5" r="2.6" fill="#fff" stroke="#000" stroke-width="0.9"/>
<text transform="translate(183.8 397.9) scale(0.9 1)" font-size="8.8" fill="#2a2a2a">1 µM</text>
<text x="240.35" y="243.3" font-size="14" font-weight="bold" text-anchor="middle">e</text>
<text x="306" y="248" font-size="13.5" stroke="#000" stroke-width="0.2">α</text><text transform="translate(315.7 251.6) scale(0.9 1)" font-size="10.4" font-weight="bold">1A</text><text x="331.7" y="248" font-size="12" textLength="98.8" lengthAdjust="spacingAndGlyphs">(Norepinephrine)</text>
<path d="M273.7 249.8V413.1" stroke="#000" stroke-width="1.6" fill="none"/>
<path d="M270.5 405.6H273.7" stroke="#000" stroke-width="1.2"/>
<text transform="translate(268.2 409.2) scale(0.87 1)" font-size="10.2" font-weight="bold" text-anchor="end">1.0</text>
<path d="M270.5 366.65H273.7" stroke="#000" stroke-width="1.2"/>
<text transform="translate(268.2 370.25) scale(0.87 1)" font-size="10.2" font-weight="bold" text-anchor="end">1.5</text>
<path d="M270.5 327.7H273.7" stroke="#000" stroke-width="1.2"/>
<text transform="translate(268.2 331.3) scale(0.87 1)" font-size="10.2" font-weight="bold" text-anchor="end">2.0</text>
<path d="M270.5 288.75H273.7" stroke="#000" stroke-width="1.2"/>
<text transform="translate(268.2 292.35) scale(0.87 1)" font-size="10.2" font-weight="bold" text-anchor="end">2.5</text>
<path d="M270.5 249.8H273.7" stroke="#000" stroke-width="1.2"/>
<text transform="translate(268.2 253.4) scale(0.87 1)" font-size="10.2" font-weight="bold" text-anchor="end">3.0</text>
<path d="M282 421.9H445.9" stroke="#000" stroke-width="1.6" fill="none"/>
<path d="M297.1 421.9V425.3" stroke="#000" stroke-width="1.2"/>
<text transform="translate(296.8 437.4) scale(0.87 1)" font-size="10.2" font-weight="bold" text-anchor="middle">-10</text>
<path d="M321.9 421.9V425.3" stroke="#000" stroke-width="1.2"/>
<text transform="translate(321.6 437.4) scale(0.87 1)" font-size="10.2" font-weight="bold" text-anchor="middle">-9</text>
<path d="M346.7 421.9V425.3" stroke="#000" stroke-width="1.2"/>
<text transform="translate(346.4 437.4) scale(0.87 1)" font-size="10.2" font-weight="bold" text-anchor="middle">-8</text>
<path d="M371.5 421.9V425.3" stroke="#000" stroke-width="1.2"/>
<text transform="translate(371.2 437.4) scale(0.87 1)" font-size="10.2" font-weight="bold" text-anchor="middle">-7</text>
<path d="M396.3 421.9V425.3" stroke="#000" stroke-width="1.2"/>
<text transform="translate(396 437.4) scale(0.87 1)" font-size="10.2" font-weight="bold" text-anchor="middle">-6</text>
<path d="M421.1 421.9V425.3" stroke="#000" stroke-width="1.2"/>
<text transform="translate(420.8 437.4) scale(0.87 1)" font-size="10.2" font-weight="bold" text-anchor="middle">-5</text>
<path d="M445.9 421.9V425.3" stroke="#000" stroke-width="1.2"/>
<text transform="translate(445.6 437.4) scale(0.87 1)" font-size="10.2" font-weight="bold" text-anchor="middle">-4</text>
<text x="363.95" y="449.5" font-size="10.5" font-weight="bold" text-anchor="middle">log c</text>
<text transform="translate(246.1 331.3) rotate(-90)" x="0" y="0" font-size="10.8" font-weight="bold" text-anchor="middle">Response over baseline</text>
<path d="M284.7 403.24 L285.94 403.13 L287.18 403.01 L288.42 402.87 L289.66 402.72 L290.9 402.54 L292.14 402.34 L293.38 402.12 L294.62 401.86 L295.86 401.57 L297.1 401.24 L298.34 400.88 L299.58 400.46 L300.82 399.99 L302.06 399.47 L303.3 398.87 L304.54 398.21 L305.78 397.46 L307.02 396.62 L308.26 395.69 L309.5 394.64 L310.74 393.48 L311.98 392.18 L313.22 390.75 L314.46 389.16 L315.7 387.41 L316.94 385.5 L318.18 383.4 L319.42 381.11 L320.66 378.63 L321.9 375.95 L323.14 373.08 L324.38 370.01 L325.62 366.76 L326.86 363.33 L328.1 359.74 L329.34 356.01 L330.58 352.15 L331.82 348.21 L333.06 344.2 L334.3 340.16 L335.54 336.12 L336.78 332.12 L338.02 328.17 L339.26 324.32 L340.5 320.59 L341.74 317 L342.98 313.57 L344.22 310.32 L345.46 307.25 L346.7 304.38 L347.94 301.7 L349.18 299.22 L350.42 296.93 L351.66 294.83 L352.9 292.91 L354.14 291.17 L355.38 289.58 L356.62 288.15 L357.86 286.85 L359.1 285.69 L360.34 284.64 L361.58 283.71 L362.82 282.87 L364.06 282.12 L365.3 281.46 L366.54 280.86 L367.78 280.34 L369.02 279.87 L370.26 279.45 L371.5 279.08 L372.74 278.76 L373.98 278.47 L375.22 278.21 L376.46 277.99 L377.7 277.79 L378.94 277.61 L380.18 277.45 L381.42 277.32 L382.66 277.19 L383.9 277.09 L385.14 276.99 L386.38 276.91 L387.62 276.83 L388.86 276.77 L390.1 276.71 L391.34 276.66 L392.58 276.62 L393.82 276.58 L395.06 276.54 L396.3 276.51 L397.54 276.49 L398.78 276.46 L400.02 276.44 L401.26 276.42 L402.5 276.41 L403.74 276.39 L404.98 276.38 L406.22 276.37 L407.46 276.36 L408.7 276.35 L409.94 276.34 L411.18 276.34 L412.42 276.33 L413.66 276.32 L414.9 276.32 L416.14 276.32 L417.38 276.31 L418.62 276.31 L419.86 276.31 L421.1 276.3 L422.34 276.3 L423.58 276.3 L424.82 276.3 L426.06 276.3 L427.3 276.3 L428.54 276.29 L429.78 276.29 L431.02 276.29 L432.26 276.29 L433.5 276.29" stroke="#000" stroke-width="1.2" fill="none"/>
<path d="M284.7 403.28 L285.94 403.18 L287.18 403.06 L288.42 402.93 L289.66 402.78 L290.9 402.61 L292.14 402.42 L293.38 402.21 L294.62 401.97 L295.86 401.69 L297.1 401.38 L298.34 401.03 L299.58 400.63 L300.82 400.19 L302.06 399.68 L303.3 399.12 L304.54 398.48 L305.78 397.77 L307.02 396.97 L308.26 396.07 L309.5 395.07 L310.74 393.96 L311.98 392.72 L313.22 391.34 L314.46 389.82 L315.7 388.13 L316.94 386.28 L318.18 384.26 L319.42 382.05 L320.66 379.64 L321.9 377.05 L323.14 374.25 L324.38 371.26 L325.62 368.08 L326.86 364.72 L328.1 361.19 L329.34 357.51 L330.58 353.71 L331.82 349.8 L333.06 345.81 L334.3 341.78 L335.54 337.74 L336.78 333.71 L338.02 329.74 L339.26 325.85 L340.5 322.07 L341.74 318.42 L342.98 314.92 L344.22 311.6 L345.46 308.45 L346.7 305.5 L347.94 302.75 L349.18 300.19 L350.42 297.82 L351.66 295.65 L352.9 293.66 L354.14 291.84 L355.38 290.2 L356.62 288.7 L357.86 287.35 L359.1 286.14 L360.34 285.05 L361.58 284.07 L362.82 283.19 L364.06 282.41 L365.3 281.71 L366.54 281.09 L367.78 280.54 L369.02 280.05 L370.26 279.61 L371.5 279.23 L372.74 278.88 L373.98 278.58 L375.22 278.31 L376.46 278.07 L377.7 277.86 L378.94 277.68 L380.18 277.51 L381.42 277.37 L382.66 277.24 L383.9 277.13 L385.14 277.03 L386.38 276.94 L387.62 276.86 L388.86 276.79 L390.1 276.73 L391.34 276.68 L392.58 276.63 L393.82 276.59 L395.06 276.56 L396.3 276.52 L397.54 276.5 L398.78 276.47 L400.02 276.45 L401.26 276.43 L402.5 276.41 L403.74 276.4 L404.98 276.38 L406.22 276.37 L407.46 276.36 L408.7 276.35 L409.94 276.35 L411.18 276.34 L412.42 276.33 L413.66 276.33 L414.9 276.32 L416.14 276.32 L417.38 276.31 L418.62 276.31 L419.86 276.31 L421.1 276.3 L422.34 276.3 L423.58 276.3 L424.82 276.3 L426.06 276.3 L427.3 276.3 L428.54 276.29 L429.78 276.29 L431.02 276.29 L432.26 276.29 L433.5 276.29" stroke="#000" stroke-width="1.2" fill="none"/>
<path d="M284.7 403.46 L285.94 403.39 L287.18 403.3 L288.42 403.2 L289.66 403.09 L290.9 402.96 L292.14 402.81 L293.38 402.65 L294.62 402.46 L295.86 402.25 L297.1 402.02 L298.34 401.75 L299.58 401.45 L300.82 401.1 L302.06 400.72 L303.3 400.28 L304.54 399.79 L305.78 399.24 L307.02 398.62 L308.26 397.92 L309.5 397.14 L310.74 396.26 L311.98 395.28 L313.22 394.19 L314.46 392.97 L315.7 391.63 L316.94 390.13 L318.18 388.48 L319.42 386.67 L320.66 384.68 L321.9 382.5 L323.14 380.14 L324.38 377.58 L325.62 374.83 L326.86 371.88 L328.1 368.73 L329.34 365.41 L330.58 361.91 L331.82 358.26 L333.06 354.48 L334.3 350.59 L335.54 346.61 L336.78 342.59 L338.02 338.55 L339.26 334.52 L340.5 330.53 L341.74 326.62 L342.98 322.81 L344.22 319.14 L345.46 315.61 L346.7 312.25 L347.94 309.07 L349.18 306.08 L350.42 303.28 L351.66 300.68 L352.9 298.28 L354.14 296.07 L355.38 294.04 L356.62 292.19 L357.86 290.51 L359.1 288.99 L360.34 287.61 L361.58 286.37 L362.82 285.26 L364.06 284.26 L365.3 283.36 L366.54 282.56 L367.78 281.85 L369.02 281.21 L370.26 280.64 L371.5 280.14 L372.74 279.7 L373.98 279.3 L375.22 278.95 L376.46 278.64 L377.7 278.36 L378.94 278.12 L380.18 277.9 L381.42 277.71 L382.66 277.55 L383.9 277.4 L385.14 277.27 L386.38 277.15 L387.62 277.05 L388.86 276.96 L390.1 276.88 L391.34 276.81 L392.58 276.75 L393.82 276.69 L395.06 276.64 L396.3 276.6 L397.54 276.56 L398.78 276.53 L400.02 276.5 L401.26 276.48 L402.5 276.45 L403.74 276.43 L404.98 276.42 L406.22 276.4 L407.46 276.39 L408.7 276.37 L409.94 276.36 L411.18 276.36 L412.42 276.35 L413.66 276.34 L414.9 276.33 L416.14 276.33 L417.38 276.32 L418.62 276.32 L419.86 276.31 L421.1 276.31 L422.34 276.31 L423.58 276.31 L424.82 276.3 L426.06 276.3 L427.3 276.3 L428.54 276.3 L429.78 276.3 L431.02 276.3 L432.26 276.29 L433.5 276.29" stroke="#000" stroke-width="1.2" fill="none"/>
<path d="M284.7 403.88 L285.94 403.86 L287.18 403.83 L288.42 403.8 L289.66 403.77 L290.9 403.73 L292.14 403.69 L293.38 403.65 L294.62 403.59 L295.86 403.53 L297.1 403.46 L298.34 403.39 L299.58 403.3 L300.82 403.2 L302.06 403.09 L303.3 402.96 L304.54 402.81 L305.78 402.65 L307.02 402.46 L308.26 402.25 L309.5 402.02 L310.74 401.75 L311.98 401.45 L313.22 401.1 L314.46 400.72 L315.7 400.28 L316.94 399.79 L318.18 399.24 L319.42 398.62 L320.66 397.92 L321.9 397.14 L323.14 396.26 L324.38 395.28 L325.62 394.19 L326.86 392.97 L328.1 391.63 L329.34 390.13 L330.58 388.48 L331.82 386.67 L333.06 384.68 L334.3 382.5 L335.54 380.14 L336.78 377.58 L338.02 374.83 L339.26 371.88 L340.5 368.73 L341.74 365.41 L342.98 361.91 L344.22 358.26 L345.46 354.48 L346.7 350.59 L347.94 346.61 L349.18 342.59 L350.42 338.55 L351.66 334.52 L352.9 330.53 L354.14 326.62 L355.38 322.81 L356.62 319.14 L357.86 315.61 L359.1 312.25 L360.34 309.07 L361.58 306.08 L362.82 303.28 L364.06 300.68 L365.3 298.28 L366.54 296.07 L367.78 294.04 L369.02 292.19 L370.26 290.51 L371.5 288.99 L372.74 287.61 L373.98 286.37 L375.22 285.26 L376.46 284.26 L377.7 283.36 L378.94 282.56 L380.18 281.85 L381.42 281.21 L382.66 280.64 L383.9 280.14 L385.14 279.7 L386.38 279.3 L387.62 278.95 L388.86 278.64 L390.1 278.36 L391.34 278.12 L392.58 277.9 L393.82 277.71 L395.06 277.55 L396.3 277.4 L397.54 277.27 L398.78 277.15 L400.02 277.05 L401.26 276.96 L402.5 276.88 L403.74 276.81 L404.98 276.75 L406.22 276.69 L407.46 276.64 L408.7 276.6 L409.94 276.56 L411.18 276.53 L412.42 276.5 L413.66 276.48 L414.9 276.45 L416.14 276.43 L417.38 276.42 L418.62 276.4 L419.86 276.39 L421.1 276.37 L422.34 276.36 L423.58 276.36 L424.82 276.35 L426.06 276.34 L427.3 276.33 L428.54 276.33 L429.78 276.32 L431.02 276.32 L432.26 276.31 L433.5 276.31" stroke="#000" stroke-width="1.2" fill="none"/>
<path d="M284.7 403.99 L285.94 403.98 L287.18 403.97 L288.42 403.97 L289.66 403.96 L290.9 403.95 L292.14 403.93 L293.38 403.92 L294.62 403.91 L295.86 403.89 L297.1 403.87 L298.34 403.85 L299.58 403.83 L300.82 403.8 L302.06 403.77 L303.3 403.74 L304.54 403.7 L305.78 403.66 L307.02 403.61 L308.26 403.56 L309.5 403.5 L310.74 403.43 L311.98 403.36 L313.22 403.28 L314.46 403.18 L315.7 403.08 L316.94 402.96 L318.18 402.83 L319.42 402.69 L320.66 402.52 L321.9 402.34 L323.14 402.14 L324.38 401.91 L325.62 401.65 L326.86 401.37 L328.1 401.05 L329.34 400.69 L330.58 400.3 L331.82 399.85 L333.06 399.36 L334.3 398.82 L335.54 398.21 L336.78 397.53 L338.02 396.78 L339.26 395.95 L340.5 395.03 L341.74 394.02 L342.98 392.9 L344.22 391.68 L345.46 390.33 L346.7 388.86 L347.94 387.25 L349.18 385.5 L350.42 383.59 L351.66 381.54 L352.9 379.32 L354.14 376.95 L355.38 374.41 L356.62 371.71 L357.86 368.85 L359.1 365.84 L360.34 362.69 L361.58 359.4 L362.82 356.01 L364.06 352.51 L365.3 348.93 L366.54 345.3 L367.78 341.63 L369.02 337.96 L370.26 334.3 L371.5 330.67 L372.74 327.11 L373.98 323.63 L375.22 320.26 L376.46 317 L377.7 313.87 L378.94 310.89 L380.18 308.07 L381.42 305.4 L382.66 302.89 L383.9 300.55 L385.14 298.37 L386.38 296.34 L387.62 294.47 L388.86 292.75 L390.1 291.17 L391.34 289.72 L392.58 288.4 L393.82 287.19 L395.06 286.1 L396.3 285.1 L397.54 284.2 L398.78 283.39 L400.02 282.66 L401.26 281.99 L402.5 281.4 L403.74 280.86 L404.98 280.38 L406.22 279.95 L407.46 279.56 L408.7 279.21 L409.94 278.9 L411.18 278.62 L412.42 278.37 L413.66 278.15 L414.9 277.95 L416.14 277.77 L417.38 277.61 L418.62 277.47 L419.86 277.34 L421.1 277.23 L422.34 277.12 L423.58 277.03 L424.82 276.95 L426.06 276.88 L427.3 276.82 L428.54 276.76 L429.78 276.71 L431.02 276.66 L432.26 276.62 L433.5 276.58" stroke="#000" stroke-width="1.2" fill="none"/>
<path d="M284.7 404.03 L285.94 404.03 L287.18 404.03 L288.42 404.03 L289.66 404.03 L290.9 404.03 L292.14 404.03 L293.38 404.03 L294.62 404.02 L295.86 404.02 L297.1 404.02 L298.34 404.02 L299.58 404.01 L300.82 404.01 L302.06 404.01 L303.3 404 L304.54 404 L305.78 403.99 L307.02 403.98 L308.26 403.98 L309.5 403.97 L310.74 403.96 L311.98 403.95 L313.22 403.94 L314.46 403.93 L315.7 403.91 L316.94 403.9 L318.18 403.88 L319.42 403.86 L320.66 403.84 L321.9 403.82 L323.14 403.79 L324.38 403.76 L325.62 403.72 L326.86 403.68 L328.1 403.64 L329.34 403.59 L330.58 403.54 L331.82 403.47 L333.06 403.4 L334.3 403.33 L335.54 403.24 L336.78 403.14 L338.02 403.04 L339.26 402.91 L340.5 402.78 L341.74 402.62 L342.98 402.45 L344.22 402.26 L345.46 402.05 L346.7 401.81 L347.94 401.54 L349.18 401.24 L350.42 400.91 L351.66 400.54 L352.9 400.13 L354.14 399.66 L355.38 399.15 L356.62 398.58 L357.86 397.94 L359.1 397.24 L360.34 396.46 L361.58 395.6 L362.82 394.64 L364.06 393.59 L365.3 392.43 L366.54 391.15 L367.78 389.76 L369.02 388.23 L370.26 386.56 L371.5 384.75 L372.74 382.79 L373.98 380.67 L375.22 378.39 L376.46 375.95 L377.7 373.35 L378.94 370.58 L380.18 367.66 L381.42 364.6 L382.66 361.39 L383.9 358.06 L385.14 354.62 L386.38 351.09 L387.62 347.49 L388.86 343.84 L390.1 340.16 L391.34 336.49 L392.58 332.84 L393.82 329.24 L395.06 325.71 L396.3 322.27 L397.54 318.94 L398.78 315.73 L400.02 312.66 L401.26 309.74 L402.5 306.98 L403.74 304.38 L404.98 301.93 L406.22 299.66 L407.46 297.54 L408.7 295.57 L409.94 293.76 L411.18 292.1 L412.42 290.57 L413.66 289.17 L414.9 287.9 L416.14 286.74 L417.38 285.69 L418.62 284.73 L419.86 283.87 L421.1 283.09 L422.34 282.38 L423.58 281.75 L424.82 281.18 L426.06 280.66 L427.3 280.2 L428.54 279.79 L429.78 279.42 L431.02 279.08 L432.26 278.79 L433.5 278.52" stroke="#000" stroke-width="1.2" fill="none"/>
<path d="M334.3 350.84V325.91M331.7 350.84H336.9M331.7 325.91H336.9" stroke="#000" stroke-width="0.9" fill="none"/>
<path d="M359.1 309.78V275.51M356.5 309.78H361.7M356.5 275.51H361.7" stroke="#000" stroke-width="0.9" fill="none"/>
<path d="M359.1 293.66V274.96M356.5 293.66H361.7M356.5 274.96H361.7" stroke="#000" stroke-width="0.9" fill="none"/>
<path d="M383.9 294.98V279.4M381.3 294.98H386.5M381.3 279.4H386.5" stroke="#000" stroke-width="0.9" fill="none"/>
<path d="M383.9 284.47V273.56M381.3 284.47H386.5M381.3 273.56H386.5" stroke="#000" stroke-width="0.9" fill="none"/>
<path d="M408.7 277.45V266.55M406.1 277.45H411.3M406.1 266.55H411.3" stroke="#000" stroke-width="0.9" fill="none"/>
<path d="M433.5 291.09V283.3M430.9 291.09H436.1M430.9 283.3H436.1" stroke="#000" stroke-width="0.9" fill="none"/>
<circle cx="284.7" cy="403.26" r="2.6" fill="#fff" stroke="#000" stroke-width="0.9"/>
<rect x="282.2" y="400.76" width="5" height="5" fill="#fff" stroke="#000" stroke-width="0.9"/>
<circle cx="284.7" cy="402.48" r="2.6" fill="#000"/>
<path d="M284.7 405.38L287.5 399.88L281.9 399.88Z" fill="#000"/>
<path d="M284.7 399.58L287.5 405.08L281.9 405.08Z" fill="#000"/>
<rect x="282.25" y="399.26" width="4.9" height="4.9" fill="#000"/>
<circle cx="309.5" cy="403.26" r="2.6" fill="#fff" stroke="#000" stroke-width="0.9"/>
<rect x="307" y="399.98" width="5" height="5" fill="#fff" stroke="#000" stroke-width="0.9"/>
<circle cx="309.5" cy="401.71" r="2.6" fill="#000"/>
<path d="M309.5 402.27L312.3 396.77L306.7 396.77Z" fill="#000"/>
<path d="M309.5 394.91L312.3 400.41L306.7 400.41Z" fill="#000"/>
<rect x="307.05" y="394.58" width="4.9" height="4.9" fill="#000"/>
<circle cx="334.3" cy="402.17" r="2.6" fill="#fff" stroke="#000" stroke-width="0.9"/>
<rect x="331.8" y="399.67" width="5" height="5" fill="#fff" stroke="#000" stroke-width="0.9"/>
<circle cx="334.3" cy="389.63" r="2.6" fill="#000"/>
<path d="M334.3 359.42L337.1 353.92L331.5 353.92Z" fill="#000"/>
<rect x="331.8" y="345.06" width="5" height="5" fill="#fff" stroke="#000" stroke-width="0.9"/>
<path d="M334.3 340.38L337.1 345.88L331.5 345.88Z" fill="#000"/>
<rect x="331.85" y="335.92" width="4.9" height="4.9" fill="#000"/>
<circle cx="359.1" cy="406.38" r="2.6" fill="#fff" stroke="#000" stroke-width="0.9"/>
<rect x="356.6" y="364.54" width="5" height="5" fill="#fff" stroke="#000" stroke-width="0.9"/>
<circle cx="359.1" cy="311.57" r="2.6" fill="#000"/>
<path d="M359.1 289.75L361.9 295.25L356.3 295.25Z" fill="#000"/>
<rect x="356.65" y="290.66" width="4.9" height="4.9" fill="#000"/>
<path d="M359.1 287.21L361.9 281.71L356.3 281.71Z" fill="#000"/>
<circle cx="383.9" cy="351.07" r="2.6" fill="#fff" stroke="#000" stroke-width="0.9"/>
<rect x="381.4" y="296.77" width="5" height="5" fill="#fff" stroke="#000" stroke-width="0.9"/>
<circle cx="383.9" cy="288.75" r="2.6" fill="#000"/>
<rect x="381.45" y="284.74" width="4.9" height="4.9" fill="#000"/>
<path d="M383.9 278.06L386.7 283.56L381.1 283.56Z" fill="#000"/>
<path d="M383.9 281.91L386.7 276.41L381.1 276.41Z" fill="#000"/>
<circle cx="408.7" cy="305.11" r="2.6" fill="#fff" stroke="#000" stroke-width="0.9"/>
<rect x="406.2" y="276.51" width="5" height="5" fill="#fff" stroke="#000" stroke-width="0.9"/>
<circle cx="408.7" cy="276.29" r="2.6" fill="#000"/>
<path d="M408.7 279.19L411.5 273.69L405.9 273.69Z" fill="#000"/>
<path d="M408.7 272.61L411.5 278.11L405.9 278.11Z" fill="#000"/>
<rect x="406.25" y="269.55" width="4.9" height="4.9" fill="#000"/>
<circle cx="433.5" cy="287.19" r="2.6" fill="#fff" stroke="#000" stroke-width="0.9"/>
<rect x="431" y="272.23" width="5" height="5" fill="#fff" stroke="#000" stroke-width="0.9"/>
<circle cx="433.5" cy="272" r="2.6" fill="#000"/>
<path d="M433.5 266.38L436.3 271.88L430.7 271.88Z" fill="#000"/>
<path d="M433.5 276.07L436.3 270.57L430.7 270.57Z" fill="#000"/>
<rect x="431.05" y="258.26" width="4.9" height="4.9" fill="#000"/>
<text transform="translate(409.3 328.1) scale(0.9 1)" font-size="8.8" fill="#2a2a2a"><tspan font-style="italic">N</tspan>-Desalkyl-</text>
<text transform="translate(410.3 337.5) scale(0.9 1)" font-size="8.8" fill="#2a2a2a">quetiapine:</text>
<rect x="411.95" y="346.15" width="4.9" height="4.9" fill="#000"/>
<text transform="translate(422.5 351.4) scale(0.9 1)" font-size="8.8" fill="#2a2a2a">-</text>
<path d="M414.4 355.4L417.2 360.9L411.6 360.9Z" fill="#000"/>
<text transform="translate(422.5 361.1) scale(0.9 1)" font-size="8.8" fill="#2a2a2a">100 nM</text>
<path d="M414.4 370.9L417.2 365.4L411.6 365.4Z" fill="#000"/>
<text transform="translate(422.5 370.8) scale(0.9 1)" font-size="8.8" fill="#2a2a2a">1 µM</text>
<circle cx="414.4" cy="377.7" r="2.6" fill="#000"/>
<text transform="translate(422.5 380.5) scale(0.9 1)" font-size="8.8" fill="#2a2a2a">3.2 µM</text>
<rect x="411.9" y="384.9" width="5" height="5" fill="#fff" stroke="#000" stroke-width="0.9"/>
<text transform="translate(422.5 390.2) scale(0.9 1)" font-size="8.8" fill="#2a2a2a">10 µM</text>
<circle cx="414.4" cy="397.1" r="2.6" fill="#fff" stroke="#000" stroke-width="0.9"/>
<text transform="translate(422.5 399.9) scale(0.9 1)" font-size="8.8" fill="#2a2a2a">32 µM</text>
<text x="473.8" y="246.2" font-size="14" font-weight="bold" text-anchor="middle">f</text>
<text x="548" y="248" font-size="13.5" stroke="#000" stroke-width="0.2">α</text><text transform="translate(557.7 251.6) scale(0.9 1)" font-size="10.4" font-weight="bold">1D</text><text x="573.3" y="248" font-size="12" textLength="98.8" lengthAdjust="spacingAndGlyphs">(Norepinephrine)</text>
<path d="M507.5 250.1V413.1" stroke="#000" stroke-width="1.6" fill="none"/>
<path d="M504.3 406.9H507.5" stroke="#000" stroke-width="1.2"/>
<text transform="translate(502 410.5) scale(0.87 1)" font-size="10.2" font-weight="bold" text-anchor="end">1.0</text>
<path d="M504.3 375.54H507.5" stroke="#000" stroke-width="1.2"/>
<text transform="translate(502 379.14) scale(0.87 1)" font-size="10.2" font-weight="bold" text-anchor="end">1.5</text>
<path d="M504.3 344.18H507.5" stroke="#000" stroke-width="1.2"/>
<text transform="translate(502 347.78) scale(0.87 1)" font-size="10.2" font-weight="bold" text-anchor="end">2.0</text>
<path d="M504.3 312.82H507.5" stroke="#000" stroke-width="1.2"/>
<text transform="translate(502 316.42) scale(0.87 1)" font-size="10.2" font-weight="bold" text-anchor="end">2.5</text>
<path d="M504.3 281.46H507.5" stroke="#000" stroke-width="1.2"/>
<text transform="translate(502 285.06) scale(0.87 1)" font-size="10.2" font-weight="bold" text-anchor="end">3.0</text>
<path d="M504.3 250.1H507.5" stroke="#000" stroke-width="1.2"/>
<text transform="translate(502 253.7) scale(0.87 1)" font-size="10.2" font-weight="bold" text-anchor="end">3.5</text>
<path d="M515.5 422H680.3" stroke="#000" stroke-width="1.6" fill="none"/>
<path d="M531.2 422V425.4" stroke="#000" stroke-width="1.2"/>
<text transform="translate(530.9 437.2) scale(0.87 1)" font-size="10.2" font-weight="bold" text-anchor="middle">-10</text>
<path d="M556.05 422V425.4" stroke="#000" stroke-width="1.2"/>
<text transform="translate(555.75 437.2) scale(0.87 1)" font-size="10.2" font-weight="bold" text-anchor="middle">-9</text>
<path d="M580.9 422V425.4" stroke="#000" stroke-width="1.2"/>
<text transform="translate(580.6 437.2) scale(0.87 1)" font-size="10.2" font-weight="bold" text-anchor="middle">-8</text>
<path d="M605.75 422V425.4" stroke="#000" stroke-width="1.2"/>
<text transform="translate(605.45 437.2) scale(0.87 1)" font-size="10.2" font-weight="bold" text-anchor="middle">-7</text>
<path d="M630.6 422V425.4" stroke="#000" stroke-width="1.2"/>
<text transform="translate(630.3 437.2) scale(0.87 1)" font-size="10.2" font-weight="bold" text-anchor="middle">-6</text>
<path d="M655.45 422V425.4" stroke="#000" stroke-width="1.2"/>
<text transform="translate(655.15 437.2) scale(0.87 1)" font-size="10.2" font-weight="bold" text-anchor="middle">-5</text>
<path d="M680.3 422V425.4" stroke="#000" stroke-width="1.2"/>
<text transform="translate(680 437.2) scale(0.87 1)" font-size="10.2" font-weight="bold" text-anchor="middle">-4</text>
<text x="597.9" y="451" font-size="10.5" font-weight="bold" text-anchor="middle">log c</text>
<text transform="translate(480.1 331.3) rotate(-90)" x="0" y="0" font-size="10.8" font-weight="bold" text-anchor="middle">Response over baseline</text>
<path d="M518.78 403.25 L520.02 402.96 L521.26 402.64 L522.5 402.28 L523.75 401.89 L524.99 401.44 L526.23 400.95 L527.47 400.4 L528.72 399.79 L529.96 399.11 L531.2 398.36 L532.44 397.53 L533.69 396.61 L534.93 395.6 L536.17 394.48 L537.41 393.25 L538.66 391.9 L539.9 390.43 L541.14 388.82 L542.38 387.07 L543.62 385.18 L544.87 383.13 L546.11 380.92 L547.35 378.56 L548.6 376.03 L549.84 373.35 L551.08 370.51 L552.32 367.53 L553.57 364.41 L554.81 361.16 L556.05 357.8 L557.29 354.35 L558.53 350.83 L559.78 347.25 L561.02 343.65 L562.26 340.04 L563.5 336.45 L564.75 332.9 L565.99 329.42 L567.23 326.02 L568.48 322.73 L569.72 319.56 L570.96 316.52 L572.2 313.62 L573.45 310.87 L574.69 308.28 L575.93 305.86 L577.17 303.59 L578.42 301.47 L579.66 299.52 L580.9 297.71 L582.14 296.05 L583.38 294.52 L584.63 293.12 L585.87 291.85 L587.11 290.69 L588.36 289.64 L589.6 288.68 L590.84 287.81 L592.08 287.03 L593.33 286.33 L594.57 285.69 L595.81 285.12 L597.05 284.6 L598.29 284.14 L599.54 283.72 L600.78 283.35 L602.02 283.01 L603.26 282.72 L604.51 282.45 L605.75 282.21 L606.99 281.99 L608.24 281.8 L609.48 281.63 L610.72 281.48 L611.96 281.34 L613.21 281.22 L614.45 281.11 L615.69 281.01 L616.93 280.92 L618.17 280.85 L619.42 280.78 L620.66 280.71 L621.9 280.66 L623.14 280.61 L624.39 280.57 L625.63 280.53 L626.87 280.49 L628.12 280.46 L629.36 280.43 L630.6 280.41 L631.84 280.39 L633.09 280.37 L634.33 280.35 L635.57 280.33 L636.81 280.32 L638.05 280.31 L639.3 280.3 L640.54 280.29 L641.78 280.28 L643.02 280.27 L644.27 280.26 L645.51 280.26 L646.75 280.25 L648 280.25 L649.24 280.24 L650.48 280.24 L651.72 280.23 L652.96 280.23 L654.21 280.23 L655.45 280.23 L656.69 280.22 L657.93 280.22 L659.18 280.22 L660.42 280.22 L661.66 280.22 L662.9 280.22 L664.15 280.21 L665.39 280.21 L666.63 280.21 L667.88 280.21" stroke="#000" stroke-width="1.2" fill="none"/>
<path d="M518.78 404.32 L520.02 404.16 L521.26 403.98 L522.5 403.78 L523.75 403.55 L524.99 403.3 L526.23 403.02 L527.47 402.71 L528.72 402.36 L529.96 401.97 L531.2 401.53 L532.44 401.05 L533.69 400.51 L534.93 399.92 L536.17 399.25 L537.41 398.52 L538.66 397.7 L539.9 396.8 L541.14 395.81 L542.38 394.71 L543.62 393.51 L544.87 392.18 L546.11 390.74 L547.35 389.16 L548.6 387.44 L549.84 385.57 L551.08 383.55 L552.32 381.38 L553.57 379.04 L554.81 376.55 L556.05 373.9 L557.29 371.09 L558.53 368.14 L559.78 365.04 L561.02 361.82 L562.26 358.48 L563.5 355.05 L564.75 351.54 L565.99 347.97 L567.23 344.37 L568.48 340.76 L569.72 337.17 L570.96 333.61 L572.2 330.11 L573.45 326.7 L574.69 323.38 L575.93 320.18 L577.17 317.11 L578.42 314.19 L579.66 311.41 L580.9 308.79 L582.14 306.33 L583.38 304.03 L584.63 301.88 L585.87 299.9 L587.11 298.06 L588.36 296.37 L589.6 294.82 L590.84 293.39 L592.08 292.1 L593.33 290.91 L594.57 289.84 L595.81 288.86 L597.05 287.98 L598.29 287.18 L599.54 286.46 L600.78 285.81 L602.02 285.23 L603.26 284.7 L604.51 284.23 L605.75 283.8 L606.99 283.42 L608.24 283.08 L609.48 282.77 L610.72 282.5 L611.96 282.25 L613.21 282.03 L614.45 281.84 L615.69 281.66 L616.93 281.51 L618.17 281.37 L619.42 281.24 L620.66 281.13 L621.9 281.03 L623.14 280.94 L624.39 280.86 L625.63 280.79 L626.87 280.73 L628.12 280.67 L629.36 280.62 L630.6 280.57 L631.84 280.53 L633.09 280.5 L634.33 280.47 L635.57 280.44 L636.81 280.41 L638.05 280.39 L639.3 280.37 L640.54 280.35 L641.78 280.34 L643.02 280.32 L644.27 280.31 L645.51 280.3 L646.75 280.29 L648 280.28 L649.24 280.27 L650.48 280.26 L651.72 280.26 L652.96 280.25 L654.21 280.25 L655.45 280.24 L656.69 280.24 L657.93 280.23 L659.18 280.23 L660.42 280.23 L661.66 280.23 L662.9 280.22 L664.15 280.22 L665.39 280.22 L666.63 280.22 L667.88 280.22" stroke="#000" stroke-width="1.2" fill="none"/>
<path d="M518.78 404.61 L520.02 404.49 L521.26 404.35 L522.5 404.19 L523.75 404.01 L524.99 403.82 L526.23 403.6 L527.47 403.35 L528.72 403.08 L529.96 402.77 L531.2 402.43 L532.44 402.05 L533.69 401.63 L534.93 401.15 L536.17 400.63 L537.41 400.04 L538.66 399.39 L539.9 398.67 L541.14 397.87 L542.38 396.99 L543.62 396.01 L544.87 394.94 L546.11 393.76 L547.35 392.46 L548.6 391.04 L549.84 389.48 L551.08 387.79 L552.32 385.95 L553.57 383.97 L554.81 381.82 L556.05 379.52 L557.29 377.06 L558.53 374.44 L559.78 371.67 L561.02 368.74 L562.26 365.67 L563.5 362.47 L564.75 359.16 L565.99 355.74 L567.23 352.24 L568.48 348.69 L569.72 345.09 L570.96 341.48 L572.2 337.88 L573.45 334.32 L574.69 330.8 L575.93 327.37 L577.17 324.03 L578.42 320.81 L579.66 317.71 L580.9 314.76 L582.14 311.95 L583.38 309.3 L584.63 306.81 L585.87 304.47 L587.11 302.3 L588.36 300.28 L589.6 298.42 L590.84 296.7 L592.08 295.12 L593.33 293.67 L594.57 292.35 L595.81 291.14 L597.05 290.04 L598.29 289.05 L599.54 288.15 L600.78 287.33 L602.02 286.6 L603.26 285.94 L604.51 285.34 L605.75 284.8 L606.99 284.32 L608.24 283.88 L609.48 283.49 L610.72 283.14 L611.96 282.83 L613.21 282.55 L614.45 282.3 L615.69 282.08 L616.93 281.88 L618.17 281.7 L619.42 281.54 L620.66 281.39 L621.9 281.26 L623.14 281.15 L624.39 281.05 L625.63 280.96 L626.87 280.88 L628.12 280.8 L629.36 280.74 L630.6 280.68 L631.84 280.63 L633.09 280.58 L634.33 280.54 L635.57 280.51 L636.81 280.47 L638.05 280.44 L639.3 280.42 L640.54 280.4 L641.78 280.37 L643.02 280.36 L644.27 280.34 L645.51 280.33 L646.75 280.31 L648 280.3 L649.24 280.29 L650.48 280.28 L651.72 280.27 L652.96 280.27 L654.21 280.26 L655.45 280.25 L656.69 280.25 L657.93 280.24 L659.18 280.24 L660.42 280.24 L661.66 280.23 L662.9 280.23 L664.15 280.23 L665.39 280.22 L666.63 280.22 L667.88 280.22" stroke="#000" stroke-width="1.2" fill="none"/>
<path d="M518.78 405.29 L520.02 405.25 L521.26 405.2 L522.5 405.15 L523.75 405.09 L524.99 405.02 L526.23 404.94 L527.47 404.86 L528.72 404.76 L529.96 404.66 L531.2 404.54 L532.44 404.4 L533.69 404.25 L534.93 404.09 L536.17 403.9 L537.41 403.69 L538.66 403.45 L539.9 403.19 L541.14 402.9 L542.38 402.57 L543.62 402.21 L544.87 401.8 L546.11 401.35 L547.35 400.84 L548.6 400.28 L549.84 399.66 L551.08 398.97 L552.32 398.2 L553.57 397.35 L554.81 396.41 L556.05 395.38 L557.29 394.24 L558.53 392.99 L559.78 391.62 L561.02 390.12 L562.26 388.48 L563.5 386.71 L564.75 384.78 L565.99 382.7 L567.23 380.46 L568.48 378.07 L569.72 375.51 L570.96 372.79 L572.2 369.93 L573.45 366.91 L574.69 363.77 L575.93 360.5 L577.17 357.12 L578.42 353.65 L579.66 350.11 L580.9 346.53 L582.14 342.93 L583.38 339.32 L584.63 335.74 L585.87 332.2 L587.11 328.73 L588.36 325.36 L589.6 322.09 L590.84 318.94 L592.08 315.92 L593.33 313.06 L594.57 310.34 L595.81 307.79 L597.05 305.39 L598.29 303.15 L599.54 301.07 L600.78 299.14 L602.02 297.37 L603.26 295.73 L604.51 294.23 L605.75 292.86 L606.99 291.61 L608.24 290.47 L609.48 289.44 L610.72 288.5 L611.96 287.65 L613.21 286.88 L614.45 286.19 L615.69 285.57 L616.93 285.01 L618.17 284.5 L619.42 284.05 L620.66 283.64 L621.9 283.28 L623.14 282.95 L624.39 282.66 L625.63 282.4 L626.87 282.16 L628.12 281.95 L629.36 281.77 L630.6 281.6 L631.84 281.45 L633.09 281.31 L634.33 281.19 L635.57 281.09 L636.81 280.99 L638.05 280.91 L639.3 280.83 L640.54 280.76 L641.78 280.7 L643.02 280.65 L644.27 280.6 L645.51 280.56 L646.75 280.52 L648 280.49 L649.24 280.46 L650.48 280.43 L651.72 280.4 L652.96 280.38 L654.21 280.36 L655.45 280.35 L656.69 280.33 L657.93 280.32 L659.18 280.31 L660.42 280.29 L661.66 280.28 L662.9 280.28 L664.15 280.27 L665.39 280.26 L666.63 280.26 L667.88 280.25" stroke="#000" stroke-width="1.2" fill="none"/>
<path d="M518.78 405.6 L520.02 405.59 L521.26 405.58 L522.5 405.58 L523.75 405.57 L524.99 405.56 L526.23 405.55 L527.47 405.53 L528.72 405.52 L529.96 405.51 L531.2 405.49 L532.44 405.47 L533.69 405.45 L534.93 405.42 L536.17 405.4 L537.41 405.37 L538.66 405.33 L539.9 405.29 L541.14 405.25 L542.38 405.2 L543.62 405.15 L544.87 405.09 L546.11 405.02 L547.35 404.94 L548.6 404.86 L549.84 404.76 L551.08 404.66 L552.32 404.54 L553.57 404.4 L554.81 404.25 L556.05 404.09 L557.29 403.9 L558.53 403.69 L559.78 403.45 L561.02 403.19 L562.26 402.9 L563.5 402.57 L564.75 402.21 L565.99 401.8 L567.23 401.35 L568.48 400.84 L569.72 400.28 L570.96 399.66 L572.2 398.97 L573.45 398.2 L574.69 397.35 L575.93 396.41 L577.17 395.38 L578.42 394.24 L579.66 392.99 L580.9 391.62 L582.14 390.12 L583.38 388.48 L584.63 386.71 L585.87 384.78 L587.11 382.7 L588.36 380.46 L589.6 378.07 L590.84 375.51 L592.08 372.79 L593.33 369.93 L594.57 366.91 L595.81 363.77 L597.05 360.5 L598.29 357.12 L599.54 353.65 L600.78 350.11 L602.02 346.53 L603.26 342.93 L604.51 339.32 L605.75 335.74 L606.99 332.2 L608.24 328.73 L609.48 325.36 L610.72 322.09 L611.96 318.94 L613.21 315.92 L614.45 313.06 L615.69 310.34 L616.93 307.79 L618.17 305.39 L619.42 303.15 L620.66 301.07 L621.9 299.14 L623.14 297.37 L624.39 295.73 L625.63 294.23 L626.87 292.86 L628.12 291.61 L629.36 290.47 L630.6 289.44 L631.84 288.5 L633.09 287.65 L634.33 286.88 L635.57 286.19 L636.81 285.57 L638.05 285.01 L639.3 284.5 L640.54 284.05 L641.78 283.64 L643.02 283.28 L644.27 282.95 L645.51 282.66 L646.75 282.4 L648 282.16 L649.24 281.95 L650.48 281.77 L651.72 281.6 L652.96 281.45 L654.21 281.31 L655.45 281.19 L656.69 281.09 L657.93 280.99 L659.18 280.91 L660.42 280.83 L661.66 280.76 L662.9 280.7 L664.15 280.65 L665.39 280.6 L666.63 280.56 L667.88 280.52" stroke="#000" stroke-width="1.2" fill="none"/>
<path d="M518.78 405.63 L520.02 405.63 L521.26 405.63 L522.5 405.63 L523.75 405.63 L524.99 405.63 L526.23 405.62 L527.47 405.62 L528.72 405.62 L529.96 405.61 L531.2 405.61 L532.44 405.61 L533.69 405.6 L534.93 405.6 L536.17 405.59 L537.41 405.58 L538.66 405.58 L539.9 405.57 L541.14 405.56 L542.38 405.55 L543.62 405.53 L544.87 405.52 L546.11 405.51 L547.35 405.49 L548.6 405.47 L549.84 405.45 L551.08 405.42 L552.32 405.4 L553.57 405.37 L554.81 405.33 L556.05 405.29 L557.29 405.25 L558.53 405.2 L559.78 405.15 L561.02 405.09 L562.26 405.02 L563.5 404.94 L564.75 404.86 L565.99 404.76 L567.23 404.66 L568.48 404.54 L569.72 404.4 L570.96 404.25 L572.2 404.09 L573.45 403.9 L574.69 403.69 L575.93 403.45 L577.17 403.19 L578.42 402.9 L579.66 402.57 L580.9 402.21 L582.14 401.8 L583.38 401.35 L584.63 400.84 L585.87 400.28 L587.11 399.66 L588.36 398.97 L589.6 398.2 L590.84 397.35 L592.08 396.41 L593.33 395.38 L594.57 394.24 L595.81 392.99 L597.05 391.62 L598.29 390.12 L599.54 388.48 L600.78 386.71 L602.02 384.78 L603.26 382.7 L604.51 380.46 L605.75 378.07 L606.99 375.51 L608.24 372.79 L609.48 369.93 L610.72 366.91 L611.96 363.77 L613.21 360.5 L614.45 357.12 L615.69 353.65 L616.93 350.11 L618.17 346.53 L619.42 342.93 L620.66 339.32 L621.9 335.74 L623.14 332.2 L624.39 328.73 L625.63 325.36 L626.87 322.09 L628.12 318.94 L629.36 315.92 L630.6 313.06 L631.84 310.34 L633.09 307.79 L634.33 305.39 L635.57 303.15 L636.81 301.07 L638.05 299.14 L639.3 297.37 L640.54 295.73 L641.78 294.23 L643.02 292.86 L644.27 291.61 L645.51 290.47 L646.75 289.44 L648 288.5 L649.24 287.65 L650.48 286.88 L651.72 286.19 L652.96 285.57 L654.21 285.01 L655.45 284.5 L656.69 284.05 L657.93 283.64 L659.18 283.28 L660.42 282.95 L661.66 282.66 L662.9 282.4 L664.15 282.16 L665.39 281.95 L666.63 281.77 L667.88 281.6" stroke="#000" stroke-width="1.2" fill="none"/>
<path d="M518.78 406.9V397.49M516.18 406.9H521.38M516.18 397.49H521.38" stroke="#000" stroke-width="0.9" fill="none"/>
<path d="M568.48 323.55V316.02M565.88 323.55H571.08M565.88 316.02H571.08" stroke="#000" stroke-width="0.9" fill="none"/>
<path d="M618.17 319.09V301.53M615.57 319.09H620.77M615.57 301.53H620.77" stroke="#000" stroke-width="0.9" fill="none"/>
<path d="M643.02 299.02V287.73M640.42 299.02H645.62M640.42 287.73H645.62" stroke="#000" stroke-width="0.9" fill="none"/>
<path d="M667.88 299.02V283.97M665.27 299.02H670.48M665.27 283.97H670.48" stroke="#000" stroke-width="0.9" fill="none"/>
<path d="M667.88 279.58V267.03M665.27 279.58H670.48M665.27 267.03H670.48" stroke="#000" stroke-width="0.9" fill="none"/>
<circle cx="518.78" cy="405.65" r="2.6" fill="#fff" stroke="#000" stroke-width="0.9"/>
<rect x="516.28" y="402.52" width="5" height="5" fill="#fff" stroke="#000" stroke-width="0.9"/>
<circle cx="518.78" cy="403.76" r="2.6" fill="#000"/>
<path d="M518.78 406.66L521.58 401.16L515.98 401.16Z" fill="#000"/>
<path d="M518.78 400.24L521.58 405.74L515.98 405.74Z" fill="#000"/>
<rect x="516.33" y="399.75" width="4.9" height="4.9" fill="#000"/>
<circle cx="543.62" cy="405.65" r="2.6" fill="#fff" stroke="#000" stroke-width="0.9"/>
<rect x="541.12" y="402.52" width="5" height="5" fill="#fff" stroke="#000" stroke-width="0.9"/>
<circle cx="543.62" cy="403.14" r="2.6" fill="#000"/>
<path d="M543.62 403.53L546.42 398.03L540.83 398.03Z" fill="#000"/>
<path d="M543.62 395.85L546.42 401.35L540.83 401.35Z" fill="#000"/>
<rect x="541.17" y="393.79" width="4.9" height="4.9" fill="#000"/>
<circle cx="568.48" cy="403.76" r="2.6" fill="#fff" stroke="#000" stroke-width="0.9"/>
<rect x="565.98" y="401.26" width="5" height="5" fill="#fff" stroke="#000" stroke-width="0.9"/>
<circle cx="568.48" cy="384.7" r="2.6" fill="#000"/>
<path d="M568.48 350.84L571.27 345.34L565.68 345.34Z" fill="#000"/>
<path d="M568.48 335.64L571.27 341.14L565.68 341.14Z" fill="#000"/>
<rect x="566.02" y="317.33" width="4.9" height="4.9" fill="#000"/>
<circle cx="593.33" cy="402.07" r="2.6" fill="#fff" stroke="#000" stroke-width="0.9"/>
<rect x="590.83" y="361.75" width="5" height="5" fill="#fff" stroke="#000" stroke-width="0.9"/>
<circle cx="593.33" cy="307.49" r="2.6" fill="#000"/>
<path d="M593.33 291.73L596.12 297.23L590.53 297.23Z" fill="#000"/>
<path d="M593.33 293.77L596.12 288.27L590.53 288.27Z" fill="#000"/>
<rect x="590.88" y="279.26" width="4.9" height="4.9" fill="#000"/>
<circle cx="618.17" cy="337.91" r="2.6" fill="#fff" stroke="#000" stroke-width="0.9"/>
<rect x="615.67" y="307.81" width="5" height="5" fill="#fff" stroke="#000" stroke-width="0.9"/>
<path d="M618.17 288.6L620.97 294.1L615.38 294.1Z" fill="#000"/>
<circle cx="618.17" cy="287.73" r="2.6" fill="#000"/>
<path d="M618.17 289.38L620.97 283.88L615.38 283.88Z" fill="#000"/>
<rect x="615.72" y="271.48" width="4.9" height="4.9" fill="#000"/>
<circle cx="643.02" cy="297.14" r="2.6" fill="#fff" stroke="#000" stroke-width="0.9"/>
<rect x="640.52" y="291.5" width="5" height="5" fill="#fff" stroke="#000" stroke-width="0.9"/>
<circle cx="643.02" cy="280.21" r="2.6" fill="#000"/>
<path d="M643.02 275.42L645.82 280.92L640.23 280.92Z" fill="#000"/>
<path d="M643.02 279.34L645.82 273.84L640.23 273.84Z" fill="#000"/>
<rect x="640.57" y="264.58" width="4.9" height="4.9" fill="#000"/>
<circle cx="667.88" cy="287.1" r="2.6" fill="#fff" stroke="#000" stroke-width="0.9"/>
<rect x="665.38" y="289" width="5" height="5" fill="#fff" stroke="#000" stroke-width="0.9"/>
<path d="M667.88 279.81L670.67 285.31L665.08 285.31Z" fill="#000"/>
<circle cx="667.88" cy="280.21" r="2.6" fill="#000"/>
<path d="M667.88 281.22L670.67 275.72L665.08 275.72Z" fill="#000"/>
<rect x="665.42" y="270.86" width="4.9" height="4.9" fill="#000"/>
<text transform="translate(641.6 327.7) scale(0.9 1)" font-size="8.8" fill="#2a2a2a"><tspan font-style="italic">N</tspan>-Desalkyl-</text>
<text transform="translate(642.6 337.1) scale(0.9 1)" font-size="8.8" fill="#2a2a2a">quetiapine:</text>
<rect x="644.55" y="346.15" width="4.9" height="4.9" fill="#000"/>
<text transform="translate(655.3 351.4) scale(0.9 1)" font-size="8.8" fill="#2a2a2a">-</text>
<path d="M647 355.4L649.8 360.9L644.2 360.9Z" fill="#000"/>
<text transform="translate(655.3 361.1) scale(0.9 1)" font-size="8.8" fill="#2a2a2a">100 nM</text>
<path d="M647 370.9L649.8 365.4L644.2 365.4Z" fill="#000"/>
<text transform="translate(655.3 370.8) scale(0.9 1)" font-size="8.8" fill="#2a2a2a">1 µM</text>
<circle cx="647" cy="377.7" r="2.6" fill="#000"/>
<text transform="translate(655.3 380.5) scale(0.9 1)" font-size="8.8" fill="#2a2a2a">3.2 µM</text>
<rect x="644.5" y="384.9" width="5" height="5" fill="#fff" stroke="#000" stroke-width="0.9"/>
<text transform="translate(655.3 390.2) scale(0.9 1)" font-size="8.8" fill="#2a2a2a">10 µM</text>
<circle cx="647" cy="397.1" r="2.6" fill="#fff" stroke="#000" stroke-width="0.9"/>
<text transform="translate(655.3 399.9) scale(0.9 1)" font-size="8.8" fill="#2a2a2a">32 µM</text>
</svg></body></html>
